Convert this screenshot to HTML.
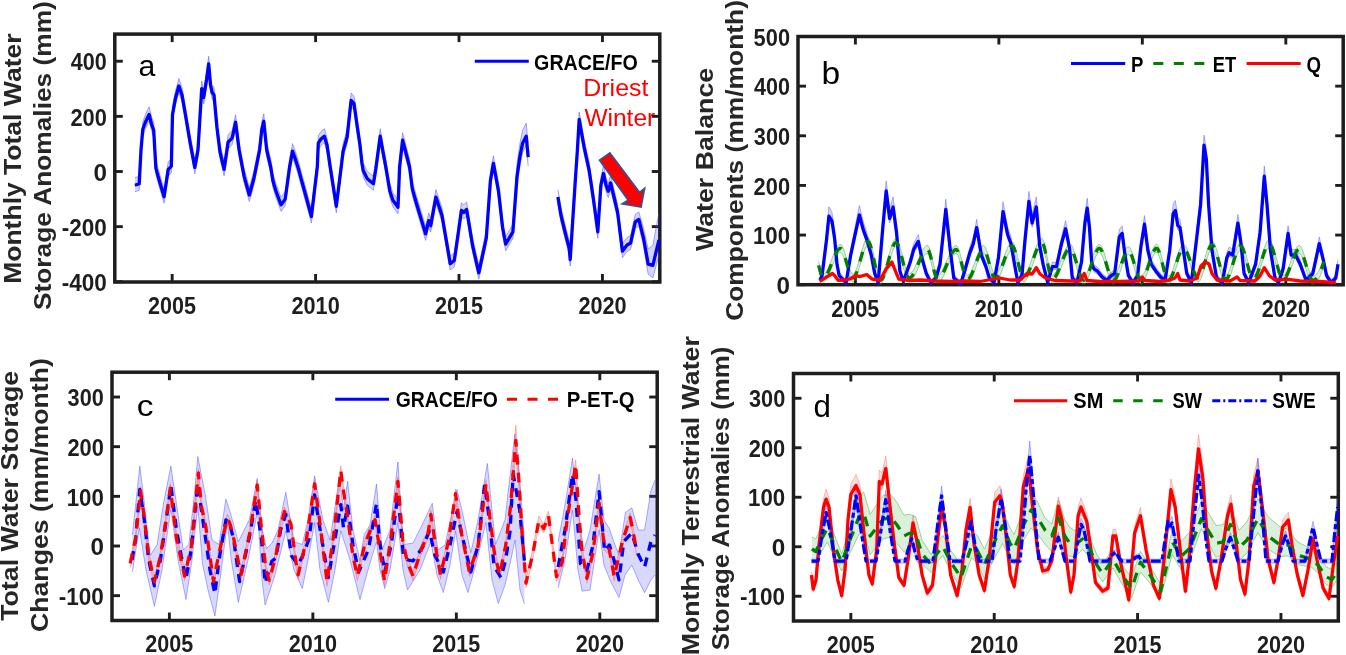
<!DOCTYPE html>
<html><head><meta charset="utf-8"><style>
html,body{margin:0;padding:0;background:#fff;}
svg{display:block;font-family:"Liberation Sans",sans-serif;will-change:transform;}
</style></head><body>
<svg width="1346" height="655" viewBox="0 0 1346 655">
<rect width="1346" height="655" fill="#fff"/>
<rect x="114.8" y="34.1" width="545.0" height="247.9" fill="none" stroke="#1e1e1e" stroke-width="3.5"/>
<line x1="172.17" y1="34.1" x2="172.17" y2="42.1" stroke="#1e1e1e" stroke-width="2.9"/>
<line x1="172.17" y1="282.0" x2="172.17" y2="274.0" stroke="#1e1e1e" stroke-width="2.9"/>
<text transform="translate(148.12,314.20) scale(0.9217,1)" font-size="23.4" font-weight="bold" fill="#1e1e1e">2005</text>
<line x1="315.59" y1="34.1" x2="315.59" y2="42.1" stroke="#1e1e1e" stroke-width="2.9"/>
<line x1="315.59" y1="282.0" x2="315.59" y2="274.0" stroke="#1e1e1e" stroke-width="2.9"/>
<text transform="translate(291.54,314.20) scale(0.9259,1)" font-size="23.4" font-weight="bold" fill="#1e1e1e">2010</text>
<line x1="459.01" y1="34.1" x2="459.01" y2="42.1" stroke="#1e1e1e" stroke-width="2.9"/>
<line x1="459.01" y1="282.0" x2="459.01" y2="274.0" stroke="#1e1e1e" stroke-width="2.9"/>
<text transform="translate(434.96,314.20) scale(0.9217,1)" font-size="23.4" font-weight="bold" fill="#1e1e1e">2015</text>
<line x1="602.43" y1="34.1" x2="602.43" y2="42.1" stroke="#1e1e1e" stroke-width="2.9"/>
<line x1="602.43" y1="282.0" x2="602.43" y2="274.0" stroke="#1e1e1e" stroke-width="2.9"/>
<text transform="translate(578.38,314.20) scale(0.9259,1)" font-size="23.4" font-weight="bold" fill="#1e1e1e">2020</text>
<line x1="114.8" y1="61.22" x2="122.8" y2="61.22" stroke="#1e1e1e" stroke-width="2.9"/>
<line x1="659.8" y1="61.22" x2="651.8" y2="61.22" stroke="#1e1e1e" stroke-width="2.9"/>
<text transform="translate(70.83,70.42) scale(0.9220,1)" font-size="23.4" font-weight="bold" fill="#1e1e1e">400</text>
<line x1="114.8" y1="116.36" x2="122.8" y2="116.36" stroke="#1e1e1e" stroke-width="2.9"/>
<line x1="659.8" y1="116.36" x2="651.8" y2="116.36" stroke="#1e1e1e" stroke-width="2.9"/>
<text transform="translate(70.39,125.56) scale(0.9335,1)" font-size="23.4" font-weight="bold" fill="#1e1e1e">200</text>
<line x1="114.8" y1="171.50" x2="122.8" y2="171.50" stroke="#1e1e1e" stroke-width="2.9"/>
<line x1="659.8" y1="171.50" x2="651.8" y2="171.50" stroke="#1e1e1e" stroke-width="2.9"/>
<text transform="translate(93.38,180.70) scale(1.0372,1)" font-size="23.4" font-weight="bold" fill="#1e1e1e">0</text>
<line x1="114.8" y1="226.64" x2="122.8" y2="226.64" stroke="#1e1e1e" stroke-width="2.9"/>
<line x1="659.8" y1="226.64" x2="651.8" y2="226.64" stroke="#1e1e1e" stroke-width="2.9"/>
<text transform="translate(61.65,235.84) scale(0.9621,1)" font-size="23.4" font-weight="bold" fill="#1e1e1e">-200</text>
<line x1="114.8" y1="281.78" x2="122.8" y2="281.78" stroke="#1e1e1e" stroke-width="2.9"/>
<line x1="659.8" y1="281.78" x2="651.8" y2="281.78" stroke="#1e1e1e" stroke-width="2.9"/>
<text transform="translate(61.65,290.98) scale(0.9621,1)" font-size="23.4" font-weight="bold" fill="#1e1e1e">-400</text>
<polygon points="134.9,177.7 137.0,177.0 139.2,176.3 141.0,142.5 142.8,121.8 145.5,114.5 149.1,106.9 151.5,116.5 153.7,122.8 155.9,160.9 160.0,175.5 164.1,189.2 168.2,161.9 171.3,158.9 172.5,106.9 175.5,90.5 178.9,78.5 182.0,87.5 186.0,110.5 190.0,134.5 194.8,159.9 198.0,142.5 201.7,81.1 203.7,90.0 206.5,72.5 208.7,56.3 210.5,77.5 212.2,85.1 214.0,87.5 217.0,120.5 220.0,144.5 224.1,161.9 228.1,134.7 232.1,130.7 235.6,114.8 239.1,142.5 242.9,162.5 244.2,169.1 249.3,187.5 254.0,170.5 259.6,142.5 261.8,121.8 263.8,113.8 266.7,142.5 270.7,159.5 272.9,173.2 275.9,183.5 281.1,197.4 285.2,191.6 289.6,159.5 292.5,143.6 295.0,150.5 298.5,161.5 300.5,169.1 305.6,187.5 311.4,209.0 317.3,159.5 318.3,135.7 321.0,131.5 324.3,128.7 327.0,137.5 330.2,159.5 336.3,198.8 341.2,159.5 343.1,143.6 347.1,129.7 351.1,93.0 354.0,96.0 357.0,117.5 360.0,137.7 361.9,155.5 363.2,163.0 367.3,171.2 373.4,176.3 375.8,161.5 380.2,128.7 383.0,144.5 385.8,159.5 389.8,183.5 392.9,192.7 398.0,199.8 399.6,159.5 402.6,132.7 405.2,142.5 409.6,159.5 412.3,181.4 416.4,195.7 425.6,226.4 428.7,213.1 430.7,218.2 435.9,189.6 442.0,208.0 450.2,256.1 454.3,253.0 458.0,227.5 461.4,202.9 463.9,204.9 466.6,201.9 472.7,238.7 478.8,265.3 486.3,230.5 490.4,173.2 493.4,155.8 498.5,183.5 502.6,220.3 505.7,236.7 512.9,224.4 517.0,163.6 520.0,143.1 522.6,130.2 526.2,123.2 528.2,144.1 528.2,166.1 526.2,145.2 522.6,152.2 520.0,165.1 517.0,185.6 512.9,238.4 505.7,250.7 502.6,234.3 498.5,197.5 493.4,169.8 490.4,187.2 486.3,244.5 478.8,279.3 472.7,252.7 466.6,215.9 463.9,218.9 461.4,216.9 458.0,241.5 454.3,267.0 450.2,270.1 442.0,222.0 435.9,203.6 430.7,232.2 428.7,227.1 425.6,240.4 416.4,209.7 412.3,195.4 409.6,173.5 405.2,156.5 402.6,146.7 399.6,173.5 398.0,213.8 392.9,206.7 389.8,197.5 385.8,173.5 383.0,158.5 380.2,142.7 375.8,175.5 373.4,190.3 367.3,185.2 363.2,177.0 361.9,169.5 360.0,151.7 357.0,131.5 354.0,110.0 351.1,107.0 347.1,143.7 343.1,157.6 341.2,173.5 336.3,212.8 330.2,173.5 327.0,151.5 324.3,142.7 321.0,145.5 318.3,149.7 317.3,173.5 311.4,223.0 305.6,201.5 300.5,183.1 298.5,175.5 295.0,164.5 292.5,157.6 289.6,173.5 285.2,205.6 281.1,211.4 275.9,197.5 272.9,187.2 270.7,173.5 266.7,156.5 263.8,127.8 261.8,135.8 259.6,156.5 254.0,184.5 249.3,201.5 244.2,183.1 242.9,176.5 239.1,156.5 235.6,128.8 232.1,144.7 228.1,148.7 224.1,175.9 220.0,158.5 217.0,134.5 214.0,101.5 212.2,99.1 210.5,91.5 208.7,70.3 206.5,86.5 203.7,104.0 201.7,95.1 198.0,156.5 194.8,173.9 190.0,148.5 186.0,124.5 182.0,101.5 178.9,92.5 175.5,104.5 172.5,120.9 171.3,172.9 168.2,175.9 164.1,203.2 160.0,189.5 155.9,174.9 153.7,136.8 151.5,130.5 149.1,120.9 145.5,128.5 142.8,135.8 141.0,156.5 139.2,190.3 137.0,191.0 134.9,191.7" fill="rgba(60,60,255,0.22)" stroke="none"/><polyline points="134.9,177.7 137.0,177.0 139.2,176.3 141.0,142.5 142.8,121.8 145.5,114.5 149.1,106.9 151.5,116.5 153.7,122.8 155.9,160.9 160.0,175.5 164.1,189.2 168.2,161.9 171.3,158.9 172.5,106.9 175.5,90.5 178.9,78.5 182.0,87.5 186.0,110.5 190.0,134.5 194.8,159.9 198.0,142.5 201.7,81.1 203.7,90.0 206.5,72.5 208.7,56.3 210.5,77.5 212.2,85.1 214.0,87.5 217.0,120.5 220.0,144.5 224.1,161.9 228.1,134.7 232.1,130.7 235.6,114.8 239.1,142.5 242.9,162.5 244.2,169.1 249.3,187.5 254.0,170.5 259.6,142.5 261.8,121.8 263.8,113.8 266.7,142.5 270.7,159.5 272.9,173.2 275.9,183.5 281.1,197.4 285.2,191.6 289.6,159.5 292.5,143.6 295.0,150.5 298.5,161.5 300.5,169.1 305.6,187.5 311.4,209.0 317.3,159.5 318.3,135.7 321.0,131.5 324.3,128.7 327.0,137.5 330.2,159.5 336.3,198.8 341.2,159.5 343.1,143.6 347.1,129.7 351.1,93.0 354.0,96.0 357.0,117.5 360.0,137.7 361.9,155.5 363.2,163.0 367.3,171.2 373.4,176.3 375.8,161.5 380.2,128.7 383.0,144.5 385.8,159.5 389.8,183.5 392.9,192.7 398.0,199.8 399.6,159.5 402.6,132.7 405.2,142.5 409.6,159.5 412.3,181.4 416.4,195.7 425.6,226.4 428.7,213.1 430.7,218.2 435.9,189.6 442.0,208.0 450.2,256.1 454.3,253.0 458.0,227.5 461.4,202.9 463.9,204.9 466.6,201.9 472.7,238.7 478.8,265.3 486.3,230.5 490.4,173.2 493.4,155.8 498.5,183.5 502.6,220.3 505.7,236.7 512.9,224.4 517.0,163.6 520.0,143.1 522.6,130.2 526.2,123.2 528.2,144.1" fill="none" stroke="rgba(70,70,255,0.6)" stroke-width="0.8"/><polyline points="134.9,191.7 137.0,191.0 139.2,190.3 141.0,156.5 142.8,135.8 145.5,128.5 149.1,120.9 151.5,130.5 153.7,136.8 155.9,174.9 160.0,189.5 164.1,203.2 168.2,175.9 171.3,172.9 172.5,120.9 175.5,104.5 178.9,92.5 182.0,101.5 186.0,124.5 190.0,148.5 194.8,173.9 198.0,156.5 201.7,95.1 203.7,104.0 206.5,86.5 208.7,70.3 210.5,91.5 212.2,99.1 214.0,101.5 217.0,134.5 220.0,158.5 224.1,175.9 228.1,148.7 232.1,144.7 235.6,128.8 239.1,156.5 242.9,176.5 244.2,183.1 249.3,201.5 254.0,184.5 259.6,156.5 261.8,135.8 263.8,127.8 266.7,156.5 270.7,173.5 272.9,187.2 275.9,197.5 281.1,211.4 285.2,205.6 289.6,173.5 292.5,157.6 295.0,164.5 298.5,175.5 300.5,183.1 305.6,201.5 311.4,223.0 317.3,173.5 318.3,149.7 321.0,145.5 324.3,142.7 327.0,151.5 330.2,173.5 336.3,212.8 341.2,173.5 343.1,157.6 347.1,143.7 351.1,107.0 354.0,110.0 357.0,131.5 360.0,151.7 361.9,169.5 363.2,177.0 367.3,185.2 373.4,190.3 375.8,175.5 380.2,142.7 383.0,158.5 385.8,173.5 389.8,197.5 392.9,206.7 398.0,213.8 399.6,173.5 402.6,146.7 405.2,156.5 409.6,173.5 412.3,195.4 416.4,209.7 425.6,240.4 428.7,227.1 430.7,232.2 435.9,203.6 442.0,222.0 450.2,270.1 454.3,267.0 458.0,241.5 461.4,216.9 463.9,218.9 466.6,215.9 472.7,252.7 478.8,279.3 486.3,244.5 490.4,187.2 493.4,169.8 498.5,197.5 502.6,234.3 505.7,250.7 512.9,238.4 517.0,185.6 520.0,165.1 522.6,152.2 526.2,145.2 528.2,166.1" fill="none" stroke="rgba(70,70,255,0.6)" stroke-width="0.8"/>
<polygon points="557.9,189.6 561.0,208.0 565.0,224.5 569.2,240.8 570.2,252.0 575.3,173.2 577.4,142.5 579.2,111.9 584.1,139.6 589.1,162.5 593.7,193.7 597.8,224.4 600.9,177.3 603.5,166.0 606.0,177.5 608.2,183.7 610.6,175.5 614.0,189.5 617.6,204.9 622.4,243.7 627.0,237.5 630.6,235.5 635.3,214.3 638.8,211.9 643.5,228.3 648.2,249.1 652.9,245.1 657.6,219.9 659.0,213.1 659.0,255.5 657.6,260.1 652.9,277.8 648.2,274.2 643.5,245.9 638.8,225.9 635.3,228.3 630.6,249.5 627.0,251.5 622.4,257.7 617.6,218.9 614.0,203.5 610.6,189.5 608.2,197.7 606.0,191.5 603.5,180.0 600.9,191.3 597.8,238.4 593.7,207.7 589.1,176.5 584.1,153.6 579.2,125.9 577.4,156.5 575.3,187.2 570.2,266.0 569.2,254.8 565.0,238.5 561.0,222.0 557.9,203.6" fill="rgba(60,60,255,0.22)" stroke="none"/><polyline points="557.9,189.6 561.0,208.0 565.0,224.5 569.2,240.8 570.2,252.0 575.3,173.2 577.4,142.5 579.2,111.9 584.1,139.6 589.1,162.5 593.7,193.7 597.8,224.4 600.9,177.3 603.5,166.0 606.0,177.5 608.2,183.7 610.6,175.5 614.0,189.5 617.6,204.9 622.4,243.7 627.0,237.5 630.6,235.5 635.3,214.3 638.8,211.9 643.5,228.3 648.2,249.1 652.9,245.1 657.6,219.9 659.0,213.1" fill="none" stroke="rgba(70,70,255,0.6)" stroke-width="0.8"/><polyline points="557.9,203.6 561.0,222.0 565.0,238.5 569.2,254.8 570.2,266.0 575.3,187.2 577.4,156.5 579.2,125.9 584.1,153.6 589.1,176.5 593.7,207.7 597.8,238.4 600.9,191.3 603.5,180.0 606.0,191.5 608.2,197.7 610.6,189.5 614.0,203.5 617.6,218.9 622.4,257.7 627.0,251.5 630.6,249.5 635.3,228.3 638.8,225.9 643.5,245.9 648.2,274.2 652.9,277.8 657.6,260.1 659.0,255.5" fill="none" stroke="rgba(70,70,255,0.6)" stroke-width="0.8"/>
<polyline points="134.9,185.2 137.0,184.5 139.2,183.8 141.0,150.0 142.8,129.3 145.5,122.0 149.1,114.4 151.5,124.0 153.7,130.3 155.9,168.4 160.0,183.0 164.1,196.7 168.2,169.4 171.3,166.4 172.5,114.4 175.5,98.0 178.9,86.0 182.0,95.0 186.0,118.0 190.0,142.0 194.8,167.4 198.0,150.0 201.7,88.6 203.7,97.5 206.5,80.0 208.7,63.8 210.5,85.0 212.2,92.6 214.0,95.0 217.0,128.0 220.0,152.0 224.1,169.4 228.1,142.2 232.1,138.2 235.6,122.3 239.1,150.0 242.9,170.0 244.2,176.6 249.3,195.0 254.0,178.0 259.6,150.0 261.8,129.3 263.8,121.3 266.7,150.0 270.7,167.0 272.9,180.7 275.9,191.0 281.1,204.9 285.2,199.1 289.6,167.0 292.5,151.1 295.0,158.0 298.5,169.0 300.5,176.6 305.6,195.0 311.4,216.5 317.3,167.0 318.3,143.2 321.0,139.0 324.3,136.2 327.0,145.0 330.2,167.0 336.3,206.3 341.2,167.0 343.1,151.1 347.1,137.2 351.1,100.5 354.0,103.5 357.0,125.0 360.0,145.2 361.9,163.0 363.2,170.5 367.3,178.7 373.4,183.8 375.8,169.0 380.2,136.2 383.0,152.0 385.8,167.0 389.8,191.0 392.9,200.2 398.0,207.3 399.6,167.0 402.6,140.2 405.2,150.0 409.6,167.0 412.3,188.9 416.4,203.2 425.6,233.9 428.7,220.6 430.7,225.7 435.9,197.1 442.0,215.5 450.2,263.6 454.3,260.5 458.0,235.0 461.4,210.4 463.9,212.4 466.6,209.4 472.7,246.2 478.8,272.8 486.3,238.0 490.4,180.7 493.4,163.3 498.5,191.0 502.6,227.8 505.7,244.2 512.9,231.9 517.0,176.6 520.0,156.1 522.6,143.2 526.2,136.2 528.2,157.1" fill="none" stroke="#0000ff" stroke-width="3.3" stroke-linejoin="round" stroke-linecap="butt" />
<polyline points="557.9,197.1 561.0,215.5 565.0,232.0 569.2,248.3 570.2,259.5 575.3,180.7 577.4,150.0 579.2,119.4 584.1,147.1 589.1,170.0 593.7,201.2 597.8,231.9 600.9,184.8 603.5,173.5 606.0,185.0 608.2,191.2 610.6,183.0 614.0,197.0 617.6,212.4 622.4,251.2 627.0,245.0 630.6,243.0 635.3,221.8 638.8,219.4 643.5,238.2 648.2,264.1 652.9,265.3 657.6,245.3 659.0,240.0" fill="none" stroke="#0000ff" stroke-width="3.3" stroke-linejoin="round" stroke-linecap="butt" />
<line x1="474.8" y1="61.2" x2="528.8" y2="61.2" stroke="#0000ff" stroke-width="3"/>
<text transform="translate(534.11,69.90) scale(0.9271,1)" font-size="21.2" font-weight="bold" fill="#000">GRACE/FO</text>
<text transform="translate(138.39,76.30) scale(1.0064,1)" font-size="30" font-weight="normal" fill="#000">a</text>
<text transform="translate(583.31,96.20) scale(1.0384,1)" font-size="24" font-weight="normal" fill="#ff0000">Driest</text>
<text transform="translate(584.40,126.40) scale(1.0214,1)" font-size="24" font-weight="normal" fill="#ff0000">Winter</text>
<polygon points="599.5,160.2 609.9,152.8 639.5,192.3 644.7,188.2 641.1,207.2 622.1,203.9 628.2,200.2" fill="#ff0000" stroke="#2f5597" stroke-width="1.6" stroke-linejoin="miter"/>
<text transform="translate(21.30,283.86) scale(0.92,1) rotate(-90) scale(1.0087,1)" font-size="26.3" font-weight="bold" fill="#262626">Monthly Total Water</text>
<text transform="translate(50.60,310.09) scale(0.92,1) rotate(-90) scale(1.0011,1)" font-size="26.3" font-weight="bold" fill="#262626">Storage Anomalies (mm)</text>
<rect x="798.0" y="36.5" width="545.2" height="248.2" fill="none" stroke="#1e1e1e" stroke-width="3.5"/>
<line x1="855.39" y1="36.5" x2="855.39" y2="44.5" stroke="#1e1e1e" stroke-width="2.9"/>
<line x1="855.39" y1="284.7" x2="855.39" y2="276.7" stroke="#1e1e1e" stroke-width="2.9"/>
<text transform="translate(831.34,316.60) scale(0.9217,1)" font-size="23.4" font-weight="bold" fill="#1e1e1e">2005</text>
<line x1="998.86" y1="36.5" x2="998.86" y2="44.5" stroke="#1e1e1e" stroke-width="2.9"/>
<line x1="998.86" y1="284.7" x2="998.86" y2="276.7" stroke="#1e1e1e" stroke-width="2.9"/>
<text transform="translate(974.81,316.60) scale(0.9259,1)" font-size="23.4" font-weight="bold" fill="#1e1e1e">2010</text>
<line x1="1142.34" y1="36.5" x2="1142.34" y2="44.5" stroke="#1e1e1e" stroke-width="2.9"/>
<line x1="1142.34" y1="284.7" x2="1142.34" y2="276.7" stroke="#1e1e1e" stroke-width="2.9"/>
<text transform="translate(1118.29,316.60) scale(0.9217,1)" font-size="23.4" font-weight="bold" fill="#1e1e1e">2015</text>
<line x1="1285.81" y1="36.5" x2="1285.81" y2="44.5" stroke="#1e1e1e" stroke-width="2.9"/>
<line x1="1285.81" y1="284.7" x2="1285.81" y2="276.7" stroke="#1e1e1e" stroke-width="2.9"/>
<text transform="translate(1261.76,316.60) scale(0.9259,1)" font-size="23.4" font-weight="bold" fill="#1e1e1e">2020</text>
<line x1="798.0" y1="284.70" x2="806.0" y2="284.70" stroke="#1e1e1e" stroke-width="2.9"/>
<line x1="1343.2" y1="284.70" x2="1335.2" y2="284.70" stroke="#1e1e1e" stroke-width="2.9"/>
<text transform="translate(776.58,293.90) scale(1.0372,1)" font-size="23.4" font-weight="bold" fill="#1e1e1e">0</text>
<line x1="798.0" y1="235.06" x2="806.0" y2="235.06" stroke="#1e1e1e" stroke-width="2.9"/>
<line x1="1343.2" y1="235.06" x2="1335.2" y2="235.06" stroke="#1e1e1e" stroke-width="2.9"/>
<text transform="translate(752.91,244.26) scale(0.9513,1)" font-size="23.4" font-weight="bold" fill="#1e1e1e">100</text>
<line x1="798.0" y1="185.42" x2="806.0" y2="185.42" stroke="#1e1e1e" stroke-width="2.9"/>
<line x1="1343.2" y1="185.42" x2="1335.2" y2="185.42" stroke="#1e1e1e" stroke-width="2.9"/>
<text transform="translate(753.59,194.62) scale(0.9335,1)" font-size="23.4" font-weight="bold" fill="#1e1e1e">200</text>
<line x1="798.0" y1="135.78" x2="806.0" y2="135.78" stroke="#1e1e1e" stroke-width="2.9"/>
<line x1="1343.2" y1="135.78" x2="1335.2" y2="135.78" stroke="#1e1e1e" stroke-width="2.9"/>
<text transform="translate(753.82,144.98) scale(0.9277,1)" font-size="23.4" font-weight="bold" fill="#1e1e1e">300</text>
<line x1="798.0" y1="86.14" x2="806.0" y2="86.14" stroke="#1e1e1e" stroke-width="2.9"/>
<line x1="1343.2" y1="86.14" x2="1335.2" y2="86.14" stroke="#1e1e1e" stroke-width="2.9"/>
<text transform="translate(754.03,95.34) scale(0.9220,1)" font-size="23.4" font-weight="bold" fill="#1e1e1e">400</text>
<line x1="798.0" y1="36.50" x2="806.0" y2="36.50" stroke="#1e1e1e" stroke-width="2.9"/>
<line x1="1343.2" y1="36.50" x2="1335.2" y2="36.50" stroke="#1e1e1e" stroke-width="2.9"/>
<text transform="translate(753.59,45.70) scale(0.9335,1)" font-size="23.4" font-weight="bold" fill="#1e1e1e">500</text>
<polygon points="818.6,261.4 819.8,265.9 821.0,270.1 822.2,273.1 823.4,274.0 824.6,273.4 825.8,272.2 827.0,270.3 828.2,267.9 829.4,265.2 830.6,262.2 831.8,259.1 833.0,256.1 834.2,253.1 835.4,250.4 836.6,248.0 837.8,246.1 839.0,244.9 840.2,244.3 841.4,244.8 842.6,246.7 843.8,249.6 845.0,253.3 846.2,257.4 847.4,261.6 848.6,265.7 849.8,269.2 851.0,272.0 852.2,273.7 853.4,273.9 854.6,272.8 855.8,270.6 857.0,267.5 858.2,263.7 859.4,259.5 860.6,255.1 861.8,250.8 863.0,246.7 864.2,243.0 865.4,240.1 866.6,238.2 867.8,237.4 869.0,238.2 870.2,240.8 871.4,244.7 872.6,249.6 873.8,255.0 875.0,260.5 876.2,265.8 877.4,270.4 878.6,273.9 879.8,276.0 881.0,276.2 882.2,275.0 883.4,272.8 884.6,269.8 885.8,266.1 887.0,261.9 888.2,257.6 889.4,253.2 890.6,249.1 891.8,245.3 893.0,242.2 894.2,239.9 895.4,238.7 896.6,238.7 897.8,240.3 899.0,243.2 900.2,247.1 901.4,251.6 902.6,256.5 903.8,261.3 905.0,265.7 906.2,269.6 907.4,272.4 908.6,273.8 909.8,273.9 911.0,273.1 912.2,271.8 913.4,270.0 914.6,267.8 915.8,265.3 917.0,262.6 918.2,259.8 919.4,257.0 920.6,254.3 921.8,251.8 923.0,249.6 924.2,247.7 925.4,246.4 926.6,245.6 927.8,245.5 929.0,247.3 930.2,250.8 931.4,255.4 932.6,260.5 933.8,265.6 935.0,270.1 936.2,273.5 937.4,275.1 938.6,275.0 939.8,274.1 941.0,272.7 942.2,270.7 943.4,268.4 944.6,265.8 945.8,263.0 947.0,260.1 948.2,257.2 949.4,254.4 950.6,251.8 951.8,249.5 953.0,247.7 954.2,246.3 955.4,245.5 956.6,245.6 957.8,247.2 959.0,250.2 960.2,254.2 961.4,258.7 962.6,263.4 963.8,267.8 965.0,271.5 966.2,274.1 967.4,275.2 968.6,274.8 969.8,273.5 971.0,271.6 972.2,269.1 973.4,266.1 974.6,262.9 975.8,259.6 977.0,256.3 978.2,253.2 979.4,250.4 980.6,248.1 981.8,246.4 983.0,245.5 984.2,245.6 985.4,247.3 986.6,250.3 987.8,254.2 989.0,258.6 990.2,263.1 991.4,267.2 992.6,270.7 993.8,273.1 995.0,274.0 996.2,273.6 997.4,272.3 998.6,270.4 999.8,267.9 1001.0,265.0 1002.2,261.9 1003.4,258.6 1004.6,255.2 1005.8,252.0 1007.0,249.0 1008.2,246.4 1009.4,244.3 1010.6,242.8 1011.8,242.1 1013.0,242.4 1014.2,244.6 1015.4,248.1 1016.6,252.5 1017.8,257.4 1019.0,262.3 1020.2,266.9 1021.4,270.7 1022.6,273.2 1023.8,274.0 1025.0,273.5 1026.2,272.2 1027.4,270.2 1028.6,267.7 1029.8,264.8 1031.0,261.6 1032.2,258.1 1033.4,254.7 1034.6,251.2 1035.8,248.0 1037.0,245.0 1038.2,242.5 1039.4,240.4 1040.6,239.1 1041.8,238.5 1043.0,239.5 1044.2,242.8 1045.4,247.9 1046.6,253.9 1047.8,260.3 1049.0,266.3 1050.2,271.2 1051.4,274.4 1052.6,275.2 1053.8,274.6 1055.0,273.3 1056.2,271.4 1057.4,269.0 1058.6,266.2 1059.8,263.3 1061.0,260.1 1062.2,257.0 1063.4,254.0 1064.6,251.2 1065.8,248.7 1067.0,246.7 1068.2,245.2 1069.4,244.4 1070.6,244.5 1071.8,245.8 1073.0,248.2 1074.2,251.5 1075.4,255.3 1076.6,259.4 1077.8,263.6 1079.0,267.6 1080.2,271.1 1081.4,273.9 1082.6,275.7 1083.8,276.3 1085.0,275.7 1086.2,274.1 1087.4,271.8 1088.6,268.8 1089.8,265.4 1091.0,261.8 1092.2,258.2 1093.4,254.6 1094.6,251.3 1095.8,248.4 1097.0,246.2 1098.2,244.8 1099.4,244.3 1100.6,245.1 1101.8,246.9 1103.0,249.7 1104.2,253.1 1105.4,256.9 1106.6,261.0 1107.8,265.0 1109.0,268.7 1110.2,271.9 1111.4,274.4 1112.6,275.9 1113.8,276.3 1115.0,275.5 1116.2,273.7 1117.4,271.2 1118.6,268.2 1119.8,264.8 1121.0,261.3 1122.2,257.7 1123.4,254.3 1124.6,251.3 1125.8,248.9 1127.0,247.2 1128.2,246.5 1129.4,247.0 1130.6,248.9 1131.8,251.8 1133.0,255.5 1134.2,259.6 1135.4,263.9 1136.6,267.9 1137.8,271.5 1139.0,274.3 1140.2,276.0 1141.4,276.2 1142.6,275.4 1143.8,273.6 1145.0,271.1 1146.2,268.0 1147.4,264.6 1148.6,260.9 1149.8,257.2 1151.0,253.7 1152.2,250.5 1153.4,247.8 1154.6,245.7 1155.8,244.5 1157.0,244.4 1158.2,245.9 1159.4,248.8 1160.6,252.7 1161.8,257.3 1163.0,262.1 1164.2,266.8 1165.4,270.9 1166.6,274.1 1167.8,276.0 1169.0,276.2 1170.2,275.1 1171.4,273.1 1172.6,270.4 1173.8,267.0 1175.0,263.3 1176.2,259.5 1177.4,255.7 1178.6,252.1 1179.8,249.0 1181.0,246.5 1182.2,244.9 1183.4,244.3 1184.6,244.8 1185.8,246.4 1187.0,248.7 1188.2,251.6 1189.4,254.9 1190.6,258.4 1191.8,262.0 1193.0,265.4 1194.2,268.5 1195.4,271.1 1196.6,272.9 1197.8,273.9 1199.0,273.7 1200.2,272.3 1201.4,269.7 1202.6,266.2 1203.8,262.2 1205.0,257.9 1206.2,253.6 1207.4,249.5 1208.6,245.9 1209.8,243.1 1211.0,241.3 1212.2,240.8 1213.4,241.8 1214.6,244.0 1215.8,247.2 1217.0,251.1 1218.2,255.4 1219.4,259.9 1220.6,264.2 1221.8,268.2 1223.0,271.5 1224.2,273.9 1225.4,275.1 1226.6,274.9 1227.8,273.6 1229.0,271.3 1230.2,268.2 1231.4,264.7 1232.6,260.8 1233.8,256.8 1235.0,252.9 1236.2,249.3 1237.4,246.2 1238.6,243.8 1239.8,242.3 1241.0,242.1 1242.2,243.3 1243.4,245.9 1244.6,249.6 1245.8,253.9 1247.0,258.6 1248.2,263.3 1249.4,267.6 1250.6,271.3 1251.8,273.9 1253.0,275.1 1254.2,274.9 1255.4,273.5 1256.6,271.3 1257.8,268.4 1259.0,264.9 1260.2,261.1 1261.4,257.1 1262.6,253.2 1263.8,249.4 1265.0,246.0 1266.2,243.2 1267.4,241.1 1268.6,239.9 1269.8,239.8 1271.0,241.2 1272.2,243.7 1273.4,247.2 1274.6,251.4 1275.8,255.9 1277.0,260.5 1278.2,265.0 1279.4,268.9 1280.6,272.1 1281.8,274.3 1283.0,275.2 1284.2,274.8 1285.4,273.5 1286.6,271.5 1287.8,269.0 1289.0,266.0 1290.2,262.8 1291.4,259.5 1292.6,256.2 1293.8,253.0 1295.0,250.3 1296.2,248.0 1297.4,246.3 1298.6,245.5 1299.8,245.6 1301.0,247.0 1302.2,249.4 1303.4,252.6 1304.6,256.3 1305.8,260.3 1307.0,264.4 1308.2,268.2 1309.4,271.5 1310.6,274.2 1311.8,275.8 1313.0,276.3 1314.2,276.0 1315.4,275.3 1316.6,274.1 1317.8,272.5 1319.0,270.4 1320.2,267.9 1321.4,264.9 1322.6,261.4 1323.8,257.5 1323.8,265.5 1322.6,269.4 1321.4,272.9 1320.2,275.9 1319.0,278.4 1317.8,280.5 1316.6,282.1 1315.4,283.3 1314.2,284.0 1313.0,284.3 1311.8,283.8 1310.6,282.2 1309.4,279.5 1308.2,276.2 1307.0,272.4 1305.8,268.3 1304.6,264.3 1303.4,260.6 1302.2,257.4 1301.0,255.0 1299.8,253.6 1298.6,253.5 1297.4,254.3 1296.2,256.0 1295.0,258.3 1293.8,261.0 1292.6,264.2 1291.4,267.5 1290.2,270.8 1289.0,274.0 1287.8,277.0 1286.6,279.5 1285.4,281.5 1284.2,282.8 1283.0,283.2 1281.8,282.3 1280.6,280.1 1279.4,276.9 1278.2,273.0 1277.0,268.5 1275.8,263.9 1274.6,259.4 1273.4,255.2 1272.2,251.7 1271.0,249.2 1269.8,247.8 1268.6,247.9 1267.4,249.1 1266.2,251.2 1265.0,254.0 1263.8,257.4 1262.6,261.2 1261.4,265.1 1260.2,269.1 1259.0,272.9 1257.8,276.4 1256.6,279.3 1255.4,281.5 1254.2,282.9 1253.0,283.1 1251.8,281.9 1250.6,279.3 1249.4,275.6 1248.2,271.3 1247.0,266.6 1245.8,261.9 1244.6,257.6 1243.4,253.9 1242.2,251.3 1241.0,250.1 1239.8,250.3 1238.6,251.8 1237.4,254.2 1236.2,257.3 1235.0,260.9 1233.8,264.8 1232.6,268.8 1231.4,272.7 1230.2,276.2 1229.0,279.3 1227.8,281.6 1226.6,282.9 1225.4,283.1 1224.2,281.9 1223.0,279.5 1221.8,276.2 1220.6,272.2 1219.4,267.9 1218.2,263.4 1217.0,259.1 1215.8,255.2 1214.6,252.0 1213.4,249.8 1212.2,248.8 1211.0,249.3 1209.8,251.1 1208.6,253.9 1207.4,257.5 1206.2,261.6 1205.0,265.9 1203.8,270.2 1202.6,274.2 1201.4,277.7 1200.2,280.3 1199.0,281.7 1197.8,281.9 1196.6,280.9 1195.4,279.1 1194.2,276.5 1193.0,273.4 1191.8,270.0 1190.6,266.4 1189.4,262.9 1188.2,259.6 1187.0,256.7 1185.8,254.4 1184.6,252.8 1183.4,252.3 1182.2,252.9 1181.0,254.5 1179.8,257.0 1178.6,260.1 1177.4,263.7 1176.2,267.5 1175.0,271.3 1173.8,275.0 1172.6,278.4 1171.4,281.1 1170.2,283.1 1169.0,284.2 1167.8,284.0 1166.6,282.1 1165.4,278.9 1164.2,274.8 1163.0,270.1 1161.8,265.3 1160.6,260.7 1159.4,256.8 1158.2,253.9 1157.0,252.4 1155.8,252.5 1154.6,253.7 1153.4,255.8 1152.2,258.5 1151.0,261.7 1149.8,265.2 1148.6,268.9 1147.4,272.6 1146.2,276.0 1145.0,279.1 1143.8,281.6 1142.6,283.4 1141.4,284.2 1140.2,284.0 1139.0,282.3 1137.8,279.5 1136.6,275.9 1135.4,271.9 1134.2,267.6 1133.0,263.5 1131.8,259.8 1130.6,256.9 1129.4,255.0 1128.2,254.5 1127.0,255.2 1125.8,256.9 1124.6,259.3 1123.4,262.3 1122.2,265.7 1121.0,269.3 1119.8,272.8 1118.6,276.2 1117.4,279.2 1116.2,281.7 1115.0,283.5 1113.8,284.3 1112.6,283.9 1111.4,282.4 1110.2,279.9 1109.0,276.7 1107.8,273.0 1106.6,269.0 1105.4,264.9 1104.2,261.1 1103.0,257.7 1101.8,254.9 1100.6,253.1 1099.4,252.3 1098.2,252.8 1097.0,254.2 1095.8,256.4 1094.6,259.3 1093.4,262.6 1092.2,266.2 1091.0,269.8 1089.8,273.4 1088.6,276.8 1087.4,279.8 1086.2,282.1 1085.0,283.7 1083.8,284.3 1082.6,283.7 1081.4,281.9 1080.2,279.1 1079.0,275.6 1077.8,271.6 1076.6,267.4 1075.4,263.3 1074.2,259.5 1073.0,256.2 1071.8,253.8 1070.6,252.5 1069.4,252.4 1068.2,253.2 1067.0,254.7 1065.8,256.7 1064.6,259.2 1063.4,262.0 1062.2,265.0 1061.0,268.1 1059.8,271.3 1058.6,274.2 1057.4,277.0 1056.2,279.4 1055.0,281.3 1053.8,282.6 1052.6,283.2 1051.4,282.4 1050.2,279.2 1049.0,274.3 1047.8,268.3 1046.6,261.9 1045.4,255.9 1044.2,250.8 1043.0,247.5 1041.8,246.5 1040.6,247.1 1039.4,248.4 1038.2,250.5 1037.0,253.0 1035.8,256.0 1034.6,259.2 1033.4,262.7 1032.2,266.1 1031.0,269.6 1029.8,272.8 1028.6,275.7 1027.4,278.2 1026.2,280.2 1025.0,281.5 1023.8,282.0 1022.6,281.2 1021.4,278.7 1020.2,274.9 1019.0,270.3 1017.8,265.4 1016.6,260.5 1015.4,256.1 1014.2,252.6 1013.0,250.4 1011.8,250.1 1010.6,250.8 1009.4,252.3 1008.2,254.4 1007.0,257.0 1005.8,260.0 1004.6,263.2 1003.4,266.6 1002.2,269.9 1001.0,273.0 999.8,275.9 998.6,278.4 997.4,280.3 996.2,281.6 995.0,282.0 993.8,281.1 992.6,278.7 991.4,275.2 990.2,271.1 989.0,266.6 987.8,262.2 986.6,258.3 985.4,255.3 984.2,253.6 983.0,253.5 981.8,254.4 980.6,256.1 979.4,258.4 978.2,261.2 977.0,264.3 975.8,267.6 974.6,270.9 973.4,274.1 972.2,277.1 971.0,279.6 969.8,281.5 968.6,282.8 967.4,283.2 966.2,282.1 965.0,279.5 963.8,275.8 962.6,271.4 961.4,266.7 960.2,262.2 959.0,258.2 957.8,255.2 956.6,253.6 955.4,253.5 954.2,254.3 953.0,255.7 951.8,257.5 950.6,259.8 949.4,262.4 948.2,265.2 947.0,268.1 945.8,271.0 944.6,273.8 943.4,276.4 942.2,278.7 941.0,280.7 939.8,282.1 938.6,283.0 937.4,283.1 936.2,281.5 935.0,278.1 933.8,273.6 932.6,268.5 931.4,263.4 930.2,258.8 929.0,255.3 927.8,253.5 926.6,253.6 925.4,254.4 924.2,255.7 923.0,257.6 921.8,259.8 920.6,262.3 919.4,265.0 918.2,267.8 917.0,270.6 915.8,273.3 914.6,275.8 913.4,278.0 912.2,279.8 911.0,281.1 909.8,281.9 908.6,281.8 907.4,280.4 906.2,277.6 905.0,273.7 903.8,269.3 902.6,264.5 901.4,259.6 900.2,255.1 899.0,251.2 897.8,248.3 896.6,246.7 895.4,246.7 894.2,247.9 893.0,250.2 891.8,253.3 890.6,257.1 889.4,261.2 888.2,265.6 887.0,269.9 885.8,274.1 884.6,277.8 883.4,280.8 882.2,283.0 881.0,284.2 879.8,284.0 878.6,281.9 877.4,278.4 876.2,273.8 875.0,268.5 873.8,263.0 872.6,257.6 871.4,252.7 870.2,248.8 869.0,246.2 867.8,245.4 866.6,246.2 865.4,248.1 864.2,251.0 863.0,254.7 861.8,258.8 860.6,263.1 859.4,267.5 858.2,271.7 857.0,275.5 855.8,278.6 854.6,280.8 853.4,281.9 852.2,281.7 851.0,280.0 849.8,277.2 848.6,273.7 847.4,269.6 846.2,265.4 845.0,261.3 843.8,257.6 842.6,254.7 841.4,252.8 840.2,252.3 839.0,252.9 837.8,254.1 836.6,256.0 835.4,258.4 834.2,261.1 833.0,264.1 831.8,267.1 830.6,270.2 829.4,273.2 828.2,275.9 827.0,278.3 825.8,280.2 824.6,281.4 823.4,282.0 822.2,281.1 821.0,278.1 819.8,273.9 818.6,269.4" fill="rgba(0,140,0,0.15)" stroke="none"/><polyline points="818.6,261.4 819.8,265.9 821.0,270.1 822.2,273.1 823.4,274.0 824.6,273.4 825.8,272.2 827.0,270.3 828.2,267.9 829.4,265.2 830.6,262.2 831.8,259.1 833.0,256.1 834.2,253.1 835.4,250.4 836.6,248.0 837.8,246.1 839.0,244.9 840.2,244.3 841.4,244.8 842.6,246.7 843.8,249.6 845.0,253.3 846.2,257.4 847.4,261.6 848.6,265.7 849.8,269.2 851.0,272.0 852.2,273.7 853.4,273.9 854.6,272.8 855.8,270.6 857.0,267.5 858.2,263.7 859.4,259.5 860.6,255.1 861.8,250.8 863.0,246.7 864.2,243.0 865.4,240.1 866.6,238.2 867.8,237.4 869.0,238.2 870.2,240.8 871.4,244.7 872.6,249.6 873.8,255.0 875.0,260.5 876.2,265.8 877.4,270.4 878.6,273.9 879.8,276.0 881.0,276.2 882.2,275.0 883.4,272.8 884.6,269.8 885.8,266.1 887.0,261.9 888.2,257.6 889.4,253.2 890.6,249.1 891.8,245.3 893.0,242.2 894.2,239.9 895.4,238.7 896.6,238.7 897.8,240.3 899.0,243.2 900.2,247.1 901.4,251.6 902.6,256.5 903.8,261.3 905.0,265.7 906.2,269.6 907.4,272.4 908.6,273.8 909.8,273.9 911.0,273.1 912.2,271.8 913.4,270.0 914.6,267.8 915.8,265.3 917.0,262.6 918.2,259.8 919.4,257.0 920.6,254.3 921.8,251.8 923.0,249.6 924.2,247.7 925.4,246.4 926.6,245.6 927.8,245.5 929.0,247.3 930.2,250.8 931.4,255.4 932.6,260.5 933.8,265.6 935.0,270.1 936.2,273.5 937.4,275.1 938.6,275.0 939.8,274.1 941.0,272.7 942.2,270.7 943.4,268.4 944.6,265.8 945.8,263.0 947.0,260.1 948.2,257.2 949.4,254.4 950.6,251.8 951.8,249.5 953.0,247.7 954.2,246.3 955.4,245.5 956.6,245.6 957.8,247.2 959.0,250.2 960.2,254.2 961.4,258.7 962.6,263.4 963.8,267.8 965.0,271.5 966.2,274.1 967.4,275.2 968.6,274.8 969.8,273.5 971.0,271.6 972.2,269.1 973.4,266.1 974.6,262.9 975.8,259.6 977.0,256.3 978.2,253.2 979.4,250.4 980.6,248.1 981.8,246.4 983.0,245.5 984.2,245.6 985.4,247.3 986.6,250.3 987.8,254.2 989.0,258.6 990.2,263.1 991.4,267.2 992.6,270.7 993.8,273.1 995.0,274.0 996.2,273.6 997.4,272.3 998.6,270.4 999.8,267.9 1001.0,265.0 1002.2,261.9 1003.4,258.6 1004.6,255.2 1005.8,252.0 1007.0,249.0 1008.2,246.4 1009.4,244.3 1010.6,242.8 1011.8,242.1 1013.0,242.4 1014.2,244.6 1015.4,248.1 1016.6,252.5 1017.8,257.4 1019.0,262.3 1020.2,266.9 1021.4,270.7 1022.6,273.2 1023.8,274.0 1025.0,273.5 1026.2,272.2 1027.4,270.2 1028.6,267.7 1029.8,264.8 1031.0,261.6 1032.2,258.1 1033.4,254.7 1034.6,251.2 1035.8,248.0 1037.0,245.0 1038.2,242.5 1039.4,240.4 1040.6,239.1 1041.8,238.5 1043.0,239.5 1044.2,242.8 1045.4,247.9 1046.6,253.9 1047.8,260.3 1049.0,266.3 1050.2,271.2 1051.4,274.4 1052.6,275.2 1053.8,274.6 1055.0,273.3 1056.2,271.4 1057.4,269.0 1058.6,266.2 1059.8,263.3 1061.0,260.1 1062.2,257.0 1063.4,254.0 1064.6,251.2 1065.8,248.7 1067.0,246.7 1068.2,245.2 1069.4,244.4 1070.6,244.5 1071.8,245.8 1073.0,248.2 1074.2,251.5 1075.4,255.3 1076.6,259.4 1077.8,263.6 1079.0,267.6 1080.2,271.1 1081.4,273.9 1082.6,275.7 1083.8,276.3 1085.0,275.7 1086.2,274.1 1087.4,271.8 1088.6,268.8 1089.8,265.4 1091.0,261.8 1092.2,258.2 1093.4,254.6 1094.6,251.3 1095.8,248.4 1097.0,246.2 1098.2,244.8 1099.4,244.3 1100.6,245.1 1101.8,246.9 1103.0,249.7 1104.2,253.1 1105.4,256.9 1106.6,261.0 1107.8,265.0 1109.0,268.7 1110.2,271.9 1111.4,274.4 1112.6,275.9 1113.8,276.3 1115.0,275.5 1116.2,273.7 1117.4,271.2 1118.6,268.2 1119.8,264.8 1121.0,261.3 1122.2,257.7 1123.4,254.3 1124.6,251.3 1125.8,248.9 1127.0,247.2 1128.2,246.5 1129.4,247.0 1130.6,248.9 1131.8,251.8 1133.0,255.5 1134.2,259.6 1135.4,263.9 1136.6,267.9 1137.8,271.5 1139.0,274.3 1140.2,276.0 1141.4,276.2 1142.6,275.4 1143.8,273.6 1145.0,271.1 1146.2,268.0 1147.4,264.6 1148.6,260.9 1149.8,257.2 1151.0,253.7 1152.2,250.5 1153.4,247.8 1154.6,245.7 1155.8,244.5 1157.0,244.4 1158.2,245.9 1159.4,248.8 1160.6,252.7 1161.8,257.3 1163.0,262.1 1164.2,266.8 1165.4,270.9 1166.6,274.1 1167.8,276.0 1169.0,276.2 1170.2,275.1 1171.4,273.1 1172.6,270.4 1173.8,267.0 1175.0,263.3 1176.2,259.5 1177.4,255.7 1178.6,252.1 1179.8,249.0 1181.0,246.5 1182.2,244.9 1183.4,244.3 1184.6,244.8 1185.8,246.4 1187.0,248.7 1188.2,251.6 1189.4,254.9 1190.6,258.4 1191.8,262.0 1193.0,265.4 1194.2,268.5 1195.4,271.1 1196.6,272.9 1197.8,273.9 1199.0,273.7 1200.2,272.3 1201.4,269.7 1202.6,266.2 1203.8,262.2 1205.0,257.9 1206.2,253.6 1207.4,249.5 1208.6,245.9 1209.8,243.1 1211.0,241.3 1212.2,240.8 1213.4,241.8 1214.6,244.0 1215.8,247.2 1217.0,251.1 1218.2,255.4 1219.4,259.9 1220.6,264.2 1221.8,268.2 1223.0,271.5 1224.2,273.9 1225.4,275.1 1226.6,274.9 1227.8,273.6 1229.0,271.3 1230.2,268.2 1231.4,264.7 1232.6,260.8 1233.8,256.8 1235.0,252.9 1236.2,249.3 1237.4,246.2 1238.6,243.8 1239.8,242.3 1241.0,242.1 1242.2,243.3 1243.4,245.9 1244.6,249.6 1245.8,253.9 1247.0,258.6 1248.2,263.3 1249.4,267.6 1250.6,271.3 1251.8,273.9 1253.0,275.1 1254.2,274.9 1255.4,273.5 1256.6,271.3 1257.8,268.4 1259.0,264.9 1260.2,261.1 1261.4,257.1 1262.6,253.2 1263.8,249.4 1265.0,246.0 1266.2,243.2 1267.4,241.1 1268.6,239.9 1269.8,239.8 1271.0,241.2 1272.2,243.7 1273.4,247.2 1274.6,251.4 1275.8,255.9 1277.0,260.5 1278.2,265.0 1279.4,268.9 1280.6,272.1 1281.8,274.3 1283.0,275.2 1284.2,274.8 1285.4,273.5 1286.6,271.5 1287.8,269.0 1289.0,266.0 1290.2,262.8 1291.4,259.5 1292.6,256.2 1293.8,253.0 1295.0,250.3 1296.2,248.0 1297.4,246.3 1298.6,245.5 1299.8,245.6 1301.0,247.0 1302.2,249.4 1303.4,252.6 1304.6,256.3 1305.8,260.3 1307.0,264.4 1308.2,268.2 1309.4,271.5 1310.6,274.2 1311.8,275.8 1313.0,276.3 1314.2,276.0 1315.4,275.3 1316.6,274.1 1317.8,272.5 1319.0,270.4 1320.2,267.9 1321.4,264.9 1322.6,261.4 1323.8,257.5" fill="none" stroke="rgba(60,160,60,0.6)" stroke-width="0.8"/><polyline points="818.6,269.4 819.8,273.9 821.0,278.1 822.2,281.1 823.4,282.0 824.6,281.4 825.8,280.2 827.0,278.3 828.2,275.9 829.4,273.2 830.6,270.2 831.8,267.1 833.0,264.1 834.2,261.1 835.4,258.4 836.6,256.0 837.8,254.1 839.0,252.9 840.2,252.3 841.4,252.8 842.6,254.7 843.8,257.6 845.0,261.3 846.2,265.4 847.4,269.6 848.6,273.7 849.8,277.2 851.0,280.0 852.2,281.7 853.4,281.9 854.6,280.8 855.8,278.6 857.0,275.5 858.2,271.7 859.4,267.5 860.6,263.1 861.8,258.8 863.0,254.7 864.2,251.0 865.4,248.1 866.6,246.2 867.8,245.4 869.0,246.2 870.2,248.8 871.4,252.7 872.6,257.6 873.8,263.0 875.0,268.5 876.2,273.8 877.4,278.4 878.6,281.9 879.8,284.0 881.0,284.2 882.2,283.0 883.4,280.8 884.6,277.8 885.8,274.1 887.0,269.9 888.2,265.6 889.4,261.2 890.6,257.1 891.8,253.3 893.0,250.2 894.2,247.9 895.4,246.7 896.6,246.7 897.8,248.3 899.0,251.2 900.2,255.1 901.4,259.6 902.6,264.5 903.8,269.3 905.0,273.7 906.2,277.6 907.4,280.4 908.6,281.8 909.8,281.9 911.0,281.1 912.2,279.8 913.4,278.0 914.6,275.8 915.8,273.3 917.0,270.6 918.2,267.8 919.4,265.0 920.6,262.3 921.8,259.8 923.0,257.6 924.2,255.7 925.4,254.4 926.6,253.6 927.8,253.5 929.0,255.3 930.2,258.8 931.4,263.4 932.6,268.5 933.8,273.6 935.0,278.1 936.2,281.5 937.4,283.1 938.6,283.0 939.8,282.1 941.0,280.7 942.2,278.7 943.4,276.4 944.6,273.8 945.8,271.0 947.0,268.1 948.2,265.2 949.4,262.4 950.6,259.8 951.8,257.5 953.0,255.7 954.2,254.3 955.4,253.5 956.6,253.6 957.8,255.2 959.0,258.2 960.2,262.2 961.4,266.7 962.6,271.4 963.8,275.8 965.0,279.5 966.2,282.1 967.4,283.2 968.6,282.8 969.8,281.5 971.0,279.6 972.2,277.1 973.4,274.1 974.6,270.9 975.8,267.6 977.0,264.3 978.2,261.2 979.4,258.4 980.6,256.1 981.8,254.4 983.0,253.5 984.2,253.6 985.4,255.3 986.6,258.3 987.8,262.2 989.0,266.6 990.2,271.1 991.4,275.2 992.6,278.7 993.8,281.1 995.0,282.0 996.2,281.6 997.4,280.3 998.6,278.4 999.8,275.9 1001.0,273.0 1002.2,269.9 1003.4,266.6 1004.6,263.2 1005.8,260.0 1007.0,257.0 1008.2,254.4 1009.4,252.3 1010.6,250.8 1011.8,250.1 1013.0,250.4 1014.2,252.6 1015.4,256.1 1016.6,260.5 1017.8,265.4 1019.0,270.3 1020.2,274.9 1021.4,278.7 1022.6,281.2 1023.8,282.0 1025.0,281.5 1026.2,280.2 1027.4,278.2 1028.6,275.7 1029.8,272.8 1031.0,269.6 1032.2,266.1 1033.4,262.7 1034.6,259.2 1035.8,256.0 1037.0,253.0 1038.2,250.5 1039.4,248.4 1040.6,247.1 1041.8,246.5 1043.0,247.5 1044.2,250.8 1045.4,255.9 1046.6,261.9 1047.8,268.3 1049.0,274.3 1050.2,279.2 1051.4,282.4 1052.6,283.2 1053.8,282.6 1055.0,281.3 1056.2,279.4 1057.4,277.0 1058.6,274.2 1059.8,271.3 1061.0,268.1 1062.2,265.0 1063.4,262.0 1064.6,259.2 1065.8,256.7 1067.0,254.7 1068.2,253.2 1069.4,252.4 1070.6,252.5 1071.8,253.8 1073.0,256.2 1074.2,259.5 1075.4,263.3 1076.6,267.4 1077.8,271.6 1079.0,275.6 1080.2,279.1 1081.4,281.9 1082.6,283.7 1083.8,284.3 1085.0,283.7 1086.2,282.1 1087.4,279.8 1088.6,276.8 1089.8,273.4 1091.0,269.8 1092.2,266.2 1093.4,262.6 1094.6,259.3 1095.8,256.4 1097.0,254.2 1098.2,252.8 1099.4,252.3 1100.6,253.1 1101.8,254.9 1103.0,257.7 1104.2,261.1 1105.4,264.9 1106.6,269.0 1107.8,273.0 1109.0,276.7 1110.2,279.9 1111.4,282.4 1112.6,283.9 1113.8,284.3 1115.0,283.5 1116.2,281.7 1117.4,279.2 1118.6,276.2 1119.8,272.8 1121.0,269.3 1122.2,265.7 1123.4,262.3 1124.6,259.3 1125.8,256.9 1127.0,255.2 1128.2,254.5 1129.4,255.0 1130.6,256.9 1131.8,259.8 1133.0,263.5 1134.2,267.6 1135.4,271.9 1136.6,275.9 1137.8,279.5 1139.0,282.3 1140.2,284.0 1141.4,284.2 1142.6,283.4 1143.8,281.6 1145.0,279.1 1146.2,276.0 1147.4,272.6 1148.6,268.9 1149.8,265.2 1151.0,261.7 1152.2,258.5 1153.4,255.8 1154.6,253.7 1155.8,252.5 1157.0,252.4 1158.2,253.9 1159.4,256.8 1160.6,260.7 1161.8,265.3 1163.0,270.1 1164.2,274.8 1165.4,278.9 1166.6,282.1 1167.8,284.0 1169.0,284.2 1170.2,283.1 1171.4,281.1 1172.6,278.4 1173.8,275.0 1175.0,271.3 1176.2,267.5 1177.4,263.7 1178.6,260.1 1179.8,257.0 1181.0,254.5 1182.2,252.9 1183.4,252.3 1184.6,252.8 1185.8,254.4 1187.0,256.7 1188.2,259.6 1189.4,262.9 1190.6,266.4 1191.8,270.0 1193.0,273.4 1194.2,276.5 1195.4,279.1 1196.6,280.9 1197.8,281.9 1199.0,281.7 1200.2,280.3 1201.4,277.7 1202.6,274.2 1203.8,270.2 1205.0,265.9 1206.2,261.6 1207.4,257.5 1208.6,253.9 1209.8,251.1 1211.0,249.3 1212.2,248.8 1213.4,249.8 1214.6,252.0 1215.8,255.2 1217.0,259.1 1218.2,263.4 1219.4,267.9 1220.6,272.2 1221.8,276.2 1223.0,279.5 1224.2,281.9 1225.4,283.1 1226.6,282.9 1227.8,281.6 1229.0,279.3 1230.2,276.2 1231.4,272.7 1232.6,268.8 1233.8,264.8 1235.0,260.9 1236.2,257.3 1237.4,254.2 1238.6,251.8 1239.8,250.3 1241.0,250.1 1242.2,251.3 1243.4,253.9 1244.6,257.6 1245.8,261.9 1247.0,266.6 1248.2,271.3 1249.4,275.6 1250.6,279.3 1251.8,281.9 1253.0,283.1 1254.2,282.9 1255.4,281.5 1256.6,279.3 1257.8,276.4 1259.0,272.9 1260.2,269.1 1261.4,265.1 1262.6,261.2 1263.8,257.4 1265.0,254.0 1266.2,251.2 1267.4,249.1 1268.6,247.9 1269.8,247.8 1271.0,249.2 1272.2,251.7 1273.4,255.2 1274.6,259.4 1275.8,263.9 1277.0,268.5 1278.2,273.0 1279.4,276.9 1280.6,280.1 1281.8,282.3 1283.0,283.2 1284.2,282.8 1285.4,281.5 1286.6,279.5 1287.8,277.0 1289.0,274.0 1290.2,270.8 1291.4,267.5 1292.6,264.2 1293.8,261.0 1295.0,258.3 1296.2,256.0 1297.4,254.3 1298.6,253.5 1299.8,253.6 1301.0,255.0 1302.2,257.4 1303.4,260.6 1304.6,264.3 1305.8,268.3 1307.0,272.4 1308.2,276.2 1309.4,279.5 1310.6,282.2 1311.8,283.8 1313.0,284.3 1314.2,284.0 1315.4,283.3 1316.6,282.1 1317.8,280.5 1319.0,278.4 1320.2,275.9 1321.4,272.9 1322.6,269.4 1323.8,265.5" fill="none" stroke="rgba(60,160,60,0.6)" stroke-width="0.8"/>
<polygon points="819.8,277.0 822.0,272.6 826.6,232.0 828.9,206.8 831.9,211.9 834.7,232.0 837.0,259.8 839.2,272.3 846.1,279.9 850.7,249.6 854.1,232.0 859.4,205.5 863.3,221.9 866.7,232.0 871.3,249.6 874.7,269.9 878.2,279.9 882.8,219.4 886.2,181.0 889.6,209.4 893.1,197.0 896.5,224.4 899.9,267.3 903.4,278.7 910.3,257.2 913.7,243.4 918.3,234.6 921.7,252.2 926.3,269.9 930.9,279.9 936.0,274.8 940.0,259.8 945.8,199.3 950.3,244.6 953.8,274.8 960.7,281.2 965.0,266.0 969.8,247.1 973.3,237.1 976.7,219.4 981.3,249.6 985.9,262.3 989.3,274.8 994.0,279.9 998.5,252.2 1003.0,201.8 1007.6,227.0 1011.0,237.1 1014.5,259.8 1017.9,279.9 1022.0,271.5 1025.0,233.0 1028.9,191.3 1032.1,214.4 1036.3,197.0 1039.7,239.6 1043.1,259.8 1047.7,279.9 1052.3,262.3 1056.5,262.3 1061.5,237.1 1065.6,220.7 1069.5,242.2 1072.3,274.8 1076.9,279.9 1081.5,257.2 1084.9,214.4 1087.2,198.2 1089.5,219.4 1091.8,259.8 1094.1,264.8 1097.5,267.3 1102.1,273.6 1106.7,277.4 1111.2,272.3 1114.7,269.9 1119.3,229.5 1122.2,225.8 1125.0,249.6 1128.4,272.3 1133.0,279.9 1137.6,272.3 1141.0,239.6 1144.5,215.6 1147.9,244.6 1151.3,259.8 1155.9,267.3 1160.5,273.6 1165.1,277.4 1169.7,244.6 1173.1,204.3 1175.4,200.6 1177.7,216.9 1180.0,219.4 1183.4,244.6 1186.8,269.9 1191.4,279.9 1197.1,227.0 1200.6,194.7 1204.0,135.2 1206.3,148.9 1208.6,194.7 1212.0,244.6 1216.6,274.8 1222.3,279.9 1226.9,252.2 1229.2,247.1 1232.7,249.6 1237.9,214.4 1240.7,234.6 1244.1,269.9 1248.7,279.9 1255.6,259.8 1260.1,224.4 1264.3,166.1 1267.0,194.7 1270.5,244.6 1275.0,274.8 1278.5,279.9 1283.1,264.8 1288.1,225.8 1291.1,249.6 1295.7,249.6 1300.2,259.8 1306.0,277.4 1312.8,269.9 1319.3,237.1 1323.2,254.7 1326.6,272.3 1331.2,279.9 1335.8,274.8 1338.0,259.8 1338.0,267.4 1335.8,280.7 1331.2,285.2 1326.6,278.5 1323.2,262.9 1319.3,247.4 1312.8,276.3 1306.0,282.9 1300.2,267.4 1295.7,258.5 1291.1,258.5 1288.1,237.4 1283.1,271.9 1278.5,285.2 1275.0,280.7 1270.5,254.0 1267.0,209.6 1264.3,181.9 1260.1,236.3 1255.6,267.4 1248.7,285.2 1244.1,276.3 1240.7,245.2 1237.9,227.4 1232.7,258.5 1229.2,256.3 1226.9,260.7 1222.3,285.2 1216.6,280.7 1212.0,254.0 1208.6,209.6 1206.3,165.2 1204.0,151.9 1200.6,209.6 1197.1,238.5 1191.4,285.2 1186.8,276.3 1183.4,254.0 1180.0,231.8 1177.7,229.6 1175.4,215.2 1173.1,218.5 1169.7,254.0 1165.1,282.9 1160.5,279.6 1155.9,274.1 1151.3,267.4 1147.9,254.0 1144.5,228.5 1141.0,249.7 1137.6,278.5 1133.0,285.2 1128.4,278.5 1125.0,258.5 1122.2,237.4 1119.3,240.7 1114.7,276.3 1111.2,278.5 1106.7,282.9 1102.1,279.6 1097.5,274.1 1094.1,271.9 1091.8,267.4 1089.5,231.8 1087.2,213.0 1084.9,227.4 1081.5,265.2 1076.9,285.2 1072.3,280.7 1069.5,251.9 1065.6,233.0 1061.5,247.4 1056.5,269.6 1052.3,269.6 1047.7,285.2 1043.1,267.4 1039.7,249.7 1036.3,211.8 1032.1,227.4 1028.9,206.3 1025.0,243.8 1022.0,277.8 1017.9,285.2 1014.5,267.4 1011.0,247.4 1007.6,238.5 1003.0,216.3 998.5,260.7 994.0,285.2 989.3,280.7 985.9,269.6 981.3,258.5 976.7,231.8 973.3,247.4 969.8,256.3 965.0,272.9 960.7,286.3 953.8,280.7 950.3,254.0 945.8,214.1 940.0,267.4 936.0,280.7 930.9,285.2 926.3,276.3 921.7,260.7 918.3,245.2 913.7,253.0 910.3,265.2 903.4,284.1 899.9,274.1 896.5,236.3 893.1,211.8 889.6,223.0 886.2,196.3 882.8,231.8 878.2,285.2 874.7,276.3 871.3,258.5 866.7,243.0 863.3,234.0 859.4,219.6 854.1,243.0 850.7,258.5 846.1,285.2 839.2,278.5 837.0,267.4 834.7,243.0 831.9,225.2 828.9,220.8 826.6,243.0 822.0,278.8 819.8,282.6" fill="rgba(60,60,255,0.2)" stroke="none"/><polyline points="819.8,277.0 822.0,272.6 826.6,232.0 828.9,206.8 831.9,211.9 834.7,232.0 837.0,259.8 839.2,272.3 846.1,279.9 850.7,249.6 854.1,232.0 859.4,205.5 863.3,221.9 866.7,232.0 871.3,249.6 874.7,269.9 878.2,279.9 882.8,219.4 886.2,181.0 889.6,209.4 893.1,197.0 896.5,224.4 899.9,267.3 903.4,278.7 910.3,257.2 913.7,243.4 918.3,234.6 921.7,252.2 926.3,269.9 930.9,279.9 936.0,274.8 940.0,259.8 945.8,199.3 950.3,244.6 953.8,274.8 960.7,281.2 965.0,266.0 969.8,247.1 973.3,237.1 976.7,219.4 981.3,249.6 985.9,262.3 989.3,274.8 994.0,279.9 998.5,252.2 1003.0,201.8 1007.6,227.0 1011.0,237.1 1014.5,259.8 1017.9,279.9 1022.0,271.5 1025.0,233.0 1028.9,191.3 1032.1,214.4 1036.3,197.0 1039.7,239.6 1043.1,259.8 1047.7,279.9 1052.3,262.3 1056.5,262.3 1061.5,237.1 1065.6,220.7 1069.5,242.2 1072.3,274.8 1076.9,279.9 1081.5,257.2 1084.9,214.4 1087.2,198.2 1089.5,219.4 1091.8,259.8 1094.1,264.8 1097.5,267.3 1102.1,273.6 1106.7,277.4 1111.2,272.3 1114.7,269.9 1119.3,229.5 1122.2,225.8 1125.0,249.6 1128.4,272.3 1133.0,279.9 1137.6,272.3 1141.0,239.6 1144.5,215.6 1147.9,244.6 1151.3,259.8 1155.9,267.3 1160.5,273.6 1165.1,277.4 1169.7,244.6 1173.1,204.3 1175.4,200.6 1177.7,216.9 1180.0,219.4 1183.4,244.6 1186.8,269.9 1191.4,279.9 1197.1,227.0 1200.6,194.7 1204.0,135.2 1206.3,148.9 1208.6,194.7 1212.0,244.6 1216.6,274.8 1222.3,279.9 1226.9,252.2 1229.2,247.1 1232.7,249.6 1237.9,214.4 1240.7,234.6 1244.1,269.9 1248.7,279.9 1255.6,259.8 1260.1,224.4 1264.3,166.1 1267.0,194.7 1270.5,244.6 1275.0,274.8 1278.5,279.9 1283.1,264.8 1288.1,225.8 1291.1,249.6 1295.7,249.6 1300.2,259.8 1306.0,277.4 1312.8,269.9 1319.3,237.1 1323.2,254.7 1326.6,272.3 1331.2,279.9 1335.8,274.8 1338.0,259.8" fill="none" stroke="rgba(70,70,255,0.55)" stroke-width="0.8"/><polyline points="819.8,282.6 822.0,278.8 826.6,243.0 828.9,220.8 831.9,225.2 834.7,243.0 837.0,267.4 839.2,278.5 846.1,285.2 850.7,258.5 854.1,243.0 859.4,219.6 863.3,234.0 866.7,243.0 871.3,258.5 874.7,276.3 878.2,285.2 882.8,231.8 886.2,196.3 889.6,223.0 893.1,211.8 896.5,236.3 899.9,274.1 903.4,284.1 910.3,265.2 913.7,253.0 918.3,245.2 921.7,260.7 926.3,276.3 930.9,285.2 936.0,280.7 940.0,267.4 945.8,214.1 950.3,254.0 953.8,280.7 960.7,286.3 965.0,272.9 969.8,256.3 973.3,247.4 976.7,231.8 981.3,258.5 985.9,269.6 989.3,280.7 994.0,285.2 998.5,260.7 1003.0,216.3 1007.6,238.5 1011.0,247.4 1014.5,267.4 1017.9,285.2 1022.0,277.8 1025.0,243.8 1028.9,206.3 1032.1,227.4 1036.3,211.8 1039.7,249.7 1043.1,267.4 1047.7,285.2 1052.3,269.6 1056.5,269.6 1061.5,247.4 1065.6,233.0 1069.5,251.9 1072.3,280.7 1076.9,285.2 1081.5,265.2 1084.9,227.4 1087.2,213.0 1089.5,231.8 1091.8,267.4 1094.1,271.9 1097.5,274.1 1102.1,279.6 1106.7,282.9 1111.2,278.5 1114.7,276.3 1119.3,240.7 1122.2,237.4 1125.0,258.5 1128.4,278.5 1133.0,285.2 1137.6,278.5 1141.0,249.7 1144.5,228.5 1147.9,254.0 1151.3,267.4 1155.9,274.1 1160.5,279.6 1165.1,282.9 1169.7,254.0 1173.1,218.5 1175.4,215.2 1177.7,229.6 1180.0,231.8 1183.4,254.0 1186.8,276.3 1191.4,285.2 1197.1,238.5 1200.6,209.6 1204.0,151.9 1206.3,165.2 1208.6,209.6 1212.0,254.0 1216.6,280.7 1222.3,285.2 1226.9,260.7 1229.2,256.3 1232.7,258.5 1237.9,227.4 1240.7,245.2 1244.1,276.3 1248.7,285.2 1255.6,267.4 1260.1,236.3 1264.3,181.9 1267.0,209.6 1270.5,254.0 1275.0,280.7 1278.5,285.2 1283.1,271.9 1288.1,237.4 1291.1,258.5 1295.7,258.5 1300.2,267.4 1306.0,282.9 1312.8,276.3 1319.3,247.4 1323.2,262.9 1326.6,278.5 1331.2,285.2 1335.8,280.7 1338.0,267.4" fill="none" stroke="rgba(70,70,255,0.55)" stroke-width="0.8"/>
<polyline points="819.8,280.0 822.0,276.0 826.6,239.1 828.9,216.2 831.9,220.8 834.7,239.1 837.0,264.3 839.2,275.7 846.1,282.6 850.7,255.1 854.1,239.1 859.4,215.0 863.3,229.9 866.7,239.1 871.3,255.1 874.7,273.5 878.2,282.6 882.8,227.6 886.2,191.0 889.6,218.5 893.1,207.0 896.5,232.2 899.9,271.2 903.4,281.5 910.3,262.0 913.7,249.4 918.3,241.4 921.7,257.4 926.3,273.5 930.9,282.6 936.0,278.0 940.0,264.3 945.8,209.3 950.3,250.5 953.8,278.0 960.7,283.8 965.0,270.0 969.8,252.8 973.3,243.7 976.7,227.6 981.3,255.1 985.9,266.6 989.3,278.0 994.0,282.6 998.5,257.4 1003.0,211.6 1007.6,234.5 1011.0,243.7 1014.5,264.3 1017.9,282.6 1022.0,275.0 1025.0,240.0 1028.9,201.3 1032.1,223.1 1036.3,207.0 1039.7,246.0 1043.1,264.3 1047.7,282.6 1052.3,266.6 1056.5,266.6 1061.5,243.7 1065.6,228.8 1069.5,248.3 1072.3,278.0 1076.9,282.6 1081.5,262.0 1084.9,223.1 1087.2,208.2 1089.5,227.6 1091.8,264.3 1094.1,268.9 1097.5,271.2 1102.1,276.9 1106.7,280.3 1111.2,275.7 1114.7,273.5 1119.3,236.8 1122.2,233.4 1125.0,255.1 1128.4,275.7 1133.0,282.6 1137.6,275.7 1141.0,246.0 1144.5,224.2 1147.9,250.5 1151.3,264.3 1155.9,271.2 1160.5,276.9 1165.1,280.3 1169.7,250.5 1173.1,213.9 1175.4,210.5 1177.7,225.3 1180.0,227.6 1183.4,250.5 1186.8,273.5 1191.4,282.6 1197.1,234.5 1200.6,204.7 1204.0,145.2 1206.3,158.9 1208.6,204.7 1212.0,250.5 1216.6,278.0 1222.3,282.6 1226.9,257.4 1229.2,252.8 1232.7,255.1 1237.9,223.1 1240.7,241.4 1244.1,273.5 1248.7,282.6 1255.6,264.3 1260.1,232.2 1264.3,176.1 1267.0,204.7 1270.5,250.5 1275.0,278.0 1278.5,282.6 1283.1,268.9 1288.1,233.4 1291.1,255.1 1295.7,255.1 1300.2,264.3 1306.0,280.3 1312.8,273.5 1319.3,243.7 1323.2,259.7 1326.6,275.7 1331.2,282.6 1335.8,278.0 1338.0,264.3" fill="none" stroke="#0000ff" stroke-width="3.3" stroke-linejoin="round" stroke-linecap="butt" />
<polyline points="818.6,265.4 819.8,269.9 821.0,274.1 822.2,277.1 823.4,278.0 824.6,277.4 825.8,276.2 827.0,274.3 828.2,271.9 829.4,269.2 830.6,266.2 831.8,263.1 833.0,260.1 834.2,257.1 835.4,254.4 836.6,252.0 837.8,250.1 839.0,248.9 840.2,248.3 841.4,248.8 842.6,250.7 843.8,253.6 845.0,257.3 846.2,261.4 847.4,265.6 848.6,269.7 849.8,273.2 851.0,276.0 852.2,277.7 853.4,277.9 854.6,276.8 855.8,274.6 857.0,271.5 858.2,267.7 859.4,263.5 860.6,259.1 861.8,254.8 863.0,250.7 864.2,247.0 865.4,244.1 866.6,242.2 867.8,241.4 869.0,242.2 870.2,244.8 871.4,248.7 872.6,253.6 873.8,259.0 875.0,264.5 876.2,269.8 877.4,274.4 878.6,277.9 879.8,280.0 881.0,280.2 882.2,279.0 883.4,276.8 884.6,273.8 885.8,270.1 887.0,265.9 888.2,261.6 889.4,257.2 890.6,253.1 891.8,249.3 893.0,246.2 894.2,243.9 895.4,242.7 896.6,242.7 897.8,244.3 899.0,247.2 900.2,251.1 901.4,255.6 902.6,260.5 903.8,265.3 905.0,269.7 906.2,273.6 907.4,276.4 908.6,277.8 909.8,277.9 911.0,277.1 912.2,275.8 913.4,274.0 914.6,271.8 915.8,269.3 917.0,266.6 918.2,263.8 919.4,261.0 920.6,258.3 921.8,255.8 923.0,253.6 924.2,251.7 925.4,250.4 926.6,249.6 927.8,249.5 929.0,251.3 930.2,254.8 931.4,259.4 932.6,264.5 933.8,269.6 935.0,274.1 936.2,277.5 937.4,279.1 938.6,279.0 939.8,278.1 941.0,276.7 942.2,274.7 943.4,272.4 944.6,269.8 945.8,267.0 947.0,264.1 948.2,261.2 949.4,258.4 950.6,255.8 951.8,253.5 953.0,251.7 954.2,250.3 955.4,249.5 956.6,249.6 957.8,251.2 959.0,254.2 960.2,258.2 961.4,262.7 962.6,267.4 963.8,271.8 965.0,275.5 966.2,278.1 967.4,279.2 968.6,278.8 969.8,277.5 971.0,275.6 972.2,273.1 973.4,270.1 974.6,266.9 975.8,263.6 977.0,260.3 978.2,257.2 979.4,254.4 980.6,252.1 981.8,250.4 983.0,249.5 984.2,249.6 985.4,251.3 986.6,254.3 987.8,258.2 989.0,262.6 990.2,267.1 991.4,271.2 992.6,274.7 993.8,277.1 995.0,278.0 996.2,277.6 997.4,276.3 998.6,274.4 999.8,271.9 1001.0,269.0 1002.2,265.9 1003.4,262.6 1004.6,259.2 1005.8,256.0 1007.0,253.0 1008.2,250.4 1009.4,248.3 1010.6,246.8 1011.8,246.1 1013.0,246.4 1014.2,248.6 1015.4,252.1 1016.6,256.5 1017.8,261.4 1019.0,266.3 1020.2,270.9 1021.4,274.7 1022.6,277.2 1023.8,278.0 1025.0,277.5 1026.2,276.2 1027.4,274.2 1028.6,271.7 1029.8,268.8 1031.0,265.6 1032.2,262.1 1033.4,258.7 1034.6,255.2 1035.8,252.0 1037.0,249.0 1038.2,246.5 1039.4,244.4 1040.6,243.1 1041.8,242.5 1043.0,243.5 1044.2,246.8 1045.4,251.9 1046.6,257.9 1047.8,264.3 1049.0,270.3 1050.2,275.2 1051.4,278.4 1052.6,279.2 1053.8,278.6 1055.0,277.3 1056.2,275.4 1057.4,273.0 1058.6,270.2 1059.8,267.3 1061.0,264.1 1062.2,261.0 1063.4,258.0 1064.6,255.2 1065.8,252.7 1067.0,250.7 1068.2,249.2 1069.4,248.4 1070.6,248.5 1071.8,249.8 1073.0,252.2 1074.2,255.5 1075.4,259.3 1076.6,263.4 1077.8,267.6 1079.0,271.6 1080.2,275.1 1081.4,277.9 1082.6,279.7 1083.8,280.3 1085.0,279.7 1086.2,278.1 1087.4,275.8 1088.6,272.8 1089.8,269.4 1091.0,265.8 1092.2,262.2 1093.4,258.6 1094.6,255.3 1095.8,252.4 1097.0,250.2 1098.2,248.8 1099.4,248.3 1100.6,249.1 1101.8,250.9 1103.0,253.7 1104.2,257.1 1105.4,260.9 1106.6,265.0 1107.8,269.0 1109.0,272.7 1110.2,275.9 1111.4,278.4 1112.6,279.9 1113.8,280.3 1115.0,279.5 1116.2,277.7 1117.4,275.2 1118.6,272.2 1119.8,268.8 1121.0,265.3 1122.2,261.7 1123.4,258.3 1124.6,255.3 1125.8,252.9 1127.0,251.2 1128.2,250.5 1129.4,251.0 1130.6,252.9 1131.8,255.8 1133.0,259.5 1134.2,263.6 1135.4,267.9 1136.6,271.9 1137.8,275.5 1139.0,278.3 1140.2,280.0 1141.4,280.2 1142.6,279.4 1143.8,277.6 1145.0,275.1 1146.2,272.0 1147.4,268.6 1148.6,264.9 1149.8,261.2 1151.0,257.7 1152.2,254.5 1153.4,251.8 1154.6,249.7 1155.8,248.5 1157.0,248.4 1158.2,249.9 1159.4,252.8 1160.6,256.7 1161.8,261.3 1163.0,266.1 1164.2,270.8 1165.4,274.9 1166.6,278.1 1167.8,280.0 1169.0,280.2 1170.2,279.1 1171.4,277.1 1172.6,274.4 1173.8,271.0 1175.0,267.3 1176.2,263.5 1177.4,259.7 1178.6,256.1 1179.8,253.0 1181.0,250.5 1182.2,248.9 1183.4,248.3 1184.6,248.8 1185.8,250.4 1187.0,252.7 1188.2,255.6 1189.4,258.9 1190.6,262.4 1191.8,266.0 1193.0,269.4 1194.2,272.5 1195.4,275.1 1196.6,276.9 1197.8,277.9 1199.0,277.7 1200.2,276.3 1201.4,273.7 1202.6,270.2 1203.8,266.2 1205.0,261.9 1206.2,257.6 1207.4,253.5 1208.6,249.9 1209.8,247.1 1211.0,245.3 1212.2,244.8 1213.4,245.8 1214.6,248.0 1215.8,251.2 1217.0,255.1 1218.2,259.4 1219.4,263.9 1220.6,268.2 1221.8,272.2 1223.0,275.5 1224.2,277.9 1225.4,279.1 1226.6,278.9 1227.8,277.6 1229.0,275.3 1230.2,272.2 1231.4,268.7 1232.6,264.8 1233.8,260.8 1235.0,256.9 1236.2,253.3 1237.4,250.2 1238.6,247.8 1239.8,246.3 1241.0,246.1 1242.2,247.3 1243.4,249.9 1244.6,253.6 1245.8,257.9 1247.0,262.6 1248.2,267.3 1249.4,271.6 1250.6,275.3 1251.8,277.9 1253.0,279.1 1254.2,278.9 1255.4,277.5 1256.6,275.3 1257.8,272.4 1259.0,268.9 1260.2,265.1 1261.4,261.1 1262.6,257.2 1263.8,253.4 1265.0,250.0 1266.2,247.2 1267.4,245.1 1268.6,243.9 1269.8,243.8 1271.0,245.2 1272.2,247.7 1273.4,251.2 1274.6,255.4 1275.8,259.9 1277.0,264.5 1278.2,269.0 1279.4,272.9 1280.6,276.1 1281.8,278.3 1283.0,279.2 1284.2,278.8 1285.4,277.5 1286.6,275.5 1287.8,273.0 1289.0,270.0 1290.2,266.8 1291.4,263.5 1292.6,260.2 1293.8,257.0 1295.0,254.3 1296.2,252.0 1297.4,250.3 1298.6,249.5 1299.8,249.6 1301.0,251.0 1302.2,253.4 1303.4,256.6 1304.6,260.3 1305.8,264.3 1307.0,268.4 1308.2,272.2 1309.4,275.5 1310.6,278.2 1311.8,279.8 1313.0,280.3 1314.2,280.0 1315.4,279.3 1316.6,278.1 1317.8,276.5 1319.0,274.4 1320.2,271.9 1321.4,268.9 1322.6,265.4 1323.8,261.5" fill="none" stroke="#008000" stroke-width="3.3" stroke-linejoin="round" stroke-linecap="butt" stroke-dasharray="10,10" />
<polyline points="819.8,281.5 825.0,278.0 832.4,273.5 835.0,276.0 838.1,280.3 845.0,280.0 850.0,279.0 855.3,275.7 860.0,276.5 866.7,274.6 872.0,279.0 880.0,280.0 886.2,268.9 891.9,262.0 895.0,270.0 898.8,279.2 910.0,280.5 920.0,280.0 935.0,281.0 950.0,281.5 965.0,281.0 980.0,281.5 999.6,278.0 1010.0,280.0 1020.0,280.0 1027.1,273.5 1032.0,274.0 1036.3,267.7 1040.0,274.0 1045.4,278.0 1055.0,280.5 1070.0,281.0 1080.0,281.0 1084.2,273.5 1087.0,280.5 1100.0,281.5 1120.0,281.5 1139.0,281.0 1142.2,276.9 1145.0,280.5 1160.0,281.5 1170.0,280.0 1175.0,278.0 1177.7,273.5 1180.0,280.0 1190.0,281.0 1197.0,278.0 1201.0,266.0 1205.2,262.0 1209.0,264.0 1212.0,273.5 1217.0,280.0 1230.0,281.0 1237.2,276.9 1240.0,280.5 1255.0,281.0 1260.0,276.0 1264.3,267.7 1269.3,275.7 1275.0,280.0 1286.5,279.2 1300.0,281.0 1320.0,281.5 1335.8,282.6" fill="none" stroke="#ff0000" stroke-width="3.3" stroke-linejoin="round" stroke-linecap="butt" />
<line x1="1071" y1="63.4" x2="1125.2" y2="63.4" stroke="#0000ff" stroke-width="3"/>
<text transform="translate(1131.00,71.60) scale(0.8760,1)" font-size="21.2" font-weight="bold" fill="#000">P</text>
<line x1="1153.3" y1="63.4" x2="1205" y2="63.4" stroke="#008000" stroke-width="3" stroke-dasharray="10,10.5"/>
<text transform="translate(1212.72,71.60) scale(0.8648,1)" font-size="21.2" font-weight="bold" fill="#000">ET</text>
<line x1="1246.6" y1="63.4" x2="1300.7" y2="63.4" stroke="#ff0000" stroke-width="3"/>
<text transform="translate(1306.45,71.60) scale(0.8827,1)" font-size="21.2" font-weight="bold" fill="#000">Q</text>
<text transform="translate(821.59,84.30) scale(1.0799,1)" font-size="31" font-weight="normal" fill="#000">b</text>
<text transform="translate(713.00,251.00) scale(0.92,1) rotate(-90) scale(1.0164,1)" font-size="26.3" font-weight="bold" fill="#262626">Water Balance</text>
<text transform="translate(742.60,320.86) scale(0.92,1) rotate(-90) scale(1.0033,1)" font-size="26.3" font-weight="bold" fill="#262626">Components (mm/month)</text>
<rect x="112.0" y="372.2" width="545.2" height="248.3" fill="none" stroke="#1e1e1e" stroke-width="3.5"/>
<line x1="169.39" y1="372.2" x2="169.39" y2="380.2" stroke="#1e1e1e" stroke-width="2.9"/>
<line x1="169.39" y1="620.5" x2="169.39" y2="612.5" stroke="#1e1e1e" stroke-width="2.9"/>
<text transform="translate(145.34,652.40) scale(0.9217,1)" font-size="23.4" font-weight="bold" fill="#1e1e1e">2005</text>
<line x1="312.86" y1="372.2" x2="312.86" y2="380.2" stroke="#1e1e1e" stroke-width="2.9"/>
<line x1="312.86" y1="620.5" x2="312.86" y2="612.5" stroke="#1e1e1e" stroke-width="2.9"/>
<text transform="translate(288.81,652.40) scale(0.9259,1)" font-size="23.4" font-weight="bold" fill="#1e1e1e">2010</text>
<line x1="456.34" y1="372.2" x2="456.34" y2="380.2" stroke="#1e1e1e" stroke-width="2.9"/>
<line x1="456.34" y1="620.5" x2="456.34" y2="612.5" stroke="#1e1e1e" stroke-width="2.9"/>
<text transform="translate(432.29,652.40) scale(0.9217,1)" font-size="23.4" font-weight="bold" fill="#1e1e1e">2015</text>
<line x1="599.81" y1="372.2" x2="599.81" y2="380.2" stroke="#1e1e1e" stroke-width="2.9"/>
<line x1="599.81" y1="620.5" x2="599.81" y2="612.5" stroke="#1e1e1e" stroke-width="2.9"/>
<text transform="translate(575.76,652.40) scale(0.9259,1)" font-size="23.4" font-weight="bold" fill="#1e1e1e">2020</text>
<line x1="112.0" y1="397.02" x2="120.0" y2="397.02" stroke="#1e1e1e" stroke-width="2.9"/>
<line x1="657.2" y1="397.02" x2="649.2" y2="397.02" stroke="#1e1e1e" stroke-width="2.9"/>
<text transform="translate(67.62,406.22) scale(0.9277,1)" font-size="23.4" font-weight="bold" fill="#1e1e1e">300</text>
<line x1="112.0" y1="446.68" x2="120.0" y2="446.68" stroke="#1e1e1e" stroke-width="2.9"/>
<line x1="657.2" y1="446.68" x2="649.2" y2="446.68" stroke="#1e1e1e" stroke-width="2.9"/>
<text transform="translate(67.39,455.88) scale(0.9335,1)" font-size="23.4" font-weight="bold" fill="#1e1e1e">200</text>
<line x1="112.0" y1="496.34" x2="120.0" y2="496.34" stroke="#1e1e1e" stroke-width="2.9"/>
<line x1="657.2" y1="496.34" x2="649.2" y2="496.34" stroke="#1e1e1e" stroke-width="2.9"/>
<text transform="translate(66.71,505.54) scale(0.9513,1)" font-size="23.4" font-weight="bold" fill="#1e1e1e">100</text>
<line x1="112.0" y1="546.00" x2="120.0" y2="546.00" stroke="#1e1e1e" stroke-width="2.9"/>
<line x1="657.2" y1="546.00" x2="649.2" y2="546.00" stroke="#1e1e1e" stroke-width="2.9"/>
<text transform="translate(90.38,555.20) scale(1.0372,1)" font-size="23.4" font-weight="bold" fill="#1e1e1e">0</text>
<line x1="112.0" y1="595.66" x2="120.0" y2="595.66" stroke="#1e1e1e" stroke-width="2.9"/>
<line x1="657.2" y1="595.66" x2="649.2" y2="595.66" stroke="#1e1e1e" stroke-width="2.9"/>
<text transform="translate(58.65,604.86) scale(0.9621,1)" font-size="23.4" font-weight="bold" fill="#1e1e1e">-100</text>
<polygon points="132.4,534.9 139.8,466.1 144.0,500.0 150.3,555.5 157.1,544.5 164.0,500.5 170.9,466.1 176.4,503.3 183.3,550.0 188.8,544.5 194.3,495.0 197.8,456.5 205.3,495.0 212.0,540.0 219.0,544.5 225.9,499.1 230.0,511.5 238.3,541.8 249.3,519.8 257.2,478.5 262.4,530.0 266.5,548.6 272.0,543.1 278.0,530.0 285.8,492.3 294.0,541.8 302.3,544.5 308.0,520.0 314.6,475.8 322.9,519.8 330.0,540.0 339.4,477.1 343.5,510.0 347.6,481.3 353.0,530.0 360.0,561.0 364.1,534.9 370.0,525.0 376.5,484.0 382.0,550.0 390.0,530.0 397.9,462.0 403.4,544.5 413.0,543.1 422.0,525.0 432.3,503.3 437.8,550.0 445.0,545.0 457.0,489.5 463.0,515.0 470.8,552.8 478.0,520.0 487.3,463.4 495.5,544.5 505.0,520.0 514.8,434.0 519.0,470.0 524.4,540.0 524.4,603.9 520.0,590.0 515.0,540.0 510.0,563.8 505.0,585.0 498.3,603.6 492.0,580.0 485.9,522.5 477.0,560.0 468.0,592.6 462.0,575.0 455.6,530.8 450.0,565.0 443.3,592.6 437.0,575.0 430.9,541.8 420.0,570.0 407.5,589.9 403.0,570.0 397.9,522.5 390.0,570.0 384.8,588.5 380.0,570.0 376.5,541.8 368.0,570.0 360.0,599.5 350.0,560.0 340.8,530.8 335.0,570.0 328.4,602.3 320.0,570.0 314.6,522.5 308.0,560.0 302.3,588.5 294.0,570.0 285.8,530.8 275.0,575.0 265.1,605.0 262.0,580.0 257.5,511.5 248.0,560.0 238.3,602.3 231.4,561.0 227.3,522.5 220.0,580.0 214.9,616.0 208.0,590.0 202.5,563.8 197.8,506.0 192.0,560.0 186.0,599.5 178.0,560.0 170.9,508.8 162.0,570.0 154.4,606.4 146.0,570.0 139.3,528.0 132.4,572.0" fill="rgba(60,60,255,0.2)" stroke="none"/><polyline points="132.4,534.9 139.8,466.1 144.0,500.0 150.3,555.5 157.1,544.5 164.0,500.5 170.9,466.1 176.4,503.3 183.3,550.0 188.8,544.5 194.3,495.0 197.8,456.5 205.3,495.0 212.0,540.0 219.0,544.5 225.9,499.1 230.0,511.5 238.3,541.8 249.3,519.8 257.2,478.5 262.4,530.0 266.5,548.6 272.0,543.1 278.0,530.0 285.8,492.3 294.0,541.8 302.3,544.5 308.0,520.0 314.6,475.8 322.9,519.8 330.0,540.0 339.4,477.1 343.5,510.0 347.6,481.3 353.0,530.0 360.0,561.0 364.1,534.9 370.0,525.0 376.5,484.0 382.0,550.0 390.0,530.0 397.9,462.0 403.4,544.5 413.0,543.1 422.0,525.0 432.3,503.3 437.8,550.0 445.0,545.0 457.0,489.5 463.0,515.0 470.8,552.8 478.0,520.0 487.3,463.4 495.5,544.5 505.0,520.0 514.8,434.0 519.0,470.0 524.4,540.0" fill="none" stroke="rgba(70,70,255,0.55)" stroke-width="0.8"/><polyline points="132.4,572.0 139.3,528.0 146.0,570.0 154.4,606.4 162.0,570.0 170.9,508.8 178.0,560.0 186.0,599.5 192.0,560.0 197.8,506.0 202.5,563.8 208.0,590.0 214.9,616.0 220.0,580.0 227.3,522.5 231.4,561.0 238.3,602.3 248.0,560.0 257.5,511.5 262.0,580.0 265.1,605.0 275.0,575.0 285.8,530.8 294.0,570.0 302.3,588.5 308.0,560.0 314.6,522.5 320.0,570.0 328.4,602.3 335.0,570.0 340.8,530.8 350.0,560.0 360.0,599.5 368.0,570.0 376.5,541.8 380.0,570.0 384.8,588.5 390.0,570.0 397.9,522.5 403.0,570.0 407.5,589.9 420.0,570.0 430.9,541.8 437.0,575.0 443.3,592.6 450.0,565.0 455.6,530.8 462.0,575.0 468.0,592.6 477.0,560.0 485.9,522.5 492.0,580.0 498.3,603.6 505.0,585.0 510.0,563.8 515.0,540.0 520.0,590.0 524.4,603.9" fill="none" stroke="rgba(70,70,255,0.55)" stroke-width="0.8"/>
<polygon points="558.1,541.4 565.0,505.0 572.5,458.1 578.0,510.0 583.7,551.0 590.0,530.0 599.1,474.1 604.0,520.0 609.4,528.6 615.0,545.0 619.0,555.0 625.4,512.6 631.8,507.8 638.2,530.0 644.6,530.0 651.0,490.1 655.0,480.0 655.0,575.0 651.0,579.9 644.6,592.7 638.2,580.0 631.8,565.0 625.0,575.0 619.0,597.5 610.0,580.0 604.0,565.0 599.1,530.0 590.0,590.0 582.1,591.1 578.0,570.0 572.5,510.0 565.0,560.0 558.1,587.9" fill="rgba(60,60,255,0.2)" stroke="none"/><polyline points="558.1,541.4 565.0,505.0 572.5,458.1 578.0,510.0 583.7,551.0 590.0,530.0 599.1,474.1 604.0,520.0 609.4,528.6 615.0,545.0 619.0,555.0 625.4,512.6 631.8,507.8 638.2,530.0 644.6,530.0 651.0,490.1 655.0,480.0" fill="none" stroke="rgba(70,70,255,0.55)" stroke-width="0.8"/><polyline points="558.1,587.9 565.0,560.0 572.5,510.0 578.0,570.0 582.1,591.1 590.0,590.0 599.1,530.0 604.0,565.0 610.0,580.0 619.0,597.5 625.0,575.0 631.8,565.0 638.2,580.0 644.6,592.7 651.0,579.9 655.0,575.0" fill="none" stroke="rgba(70,70,255,0.55)" stroke-width="0.8"/>
<polygon points="130.2,558.9 135.5,534.0 140.6,486.4 144.3,513.5 148.7,551.6 154.4,577.1 160.4,551.6 166.3,513.5 170.3,483.6 176.5,534.0 184.6,571.6 191.2,542.8 198.4,468.5 201.4,501.7 205.8,522.3 213.5,577.1 219.0,548.7 227.3,513.9 230.0,519.3 233.7,534.0 241.0,570.3 249.8,528.1 257.2,480.5 261.6,525.2 266.0,566.3 269.3,575.8 276.0,550.5 280.6,522.3 284.4,507.0 290.9,519.3 295.9,557.5 298.1,570.3 306.1,536.9 314.6,479.5 319.3,513.5 327.0,577.1 334.0,528.1 340.8,465.8 343.0,483.5 347.6,512.5 353.0,551.6 357.3,571.6 364.8,539.9 370.6,525.2 375.1,515.3 379.4,542.8 384.5,576.5 391.2,531.1 397.9,476.8 402.9,536.9 407.3,557.5 413.0,571.6 422.0,542.8 427.8,530.5 430.9,509.8 436.6,548.7 440.5,570.3 448.4,536.9 455.6,489.1 460.1,522.3 469.4,567.5 478.1,541.4 485.9,479.5 489.4,509.1 494.3,547.9 499.6,570.3 505.6,541.4 510.5,498.1 515.8,425.4 518.5,465.7 521.8,525.2 526.0,578.6 533.1,547.9 538.8,516.1 543.7,524.1 548.5,511.3 552.5,541.4 556.5,572.2 562.2,557.6 567.1,515.5 575.7,460.0 578.4,502.6 581.7,544.7 586.9,573.8 593.0,547.9 599.1,498.5 604.3,541.4 606.2,543.3 609.2,544.7 614.2,572.2 622.1,538.2 630.2,512.9 633.4,528.5 636.6,546.5 636.6,555.5 633.4,537.5 630.2,521.9 622.1,547.2 614.2,581.2 609.2,553.7 606.2,552.3 604.3,550.4 599.1,507.5 593.0,556.9 586.9,582.8 581.7,553.7 578.4,511.6 575.7,469.0 567.1,524.5 562.2,566.6 556.5,581.2 552.5,550.4 548.5,520.3 543.7,533.1 538.8,525.1 533.1,556.9 526.0,587.6 521.8,534.2 518.5,480.7 515.8,446.4 510.5,513.1 505.6,550.4 499.6,579.3 494.3,556.9 489.4,518.1 485.9,488.5 478.1,550.4 469.4,576.5 460.1,531.3 455.6,498.1 448.4,545.9 440.5,579.3 436.6,557.7 430.9,518.8 427.8,539.5 422.0,551.8 413.0,580.6 407.3,566.5 402.9,545.9 397.9,485.8 391.2,540.1 384.5,585.5 379.4,551.8 375.1,524.3 370.6,534.2 364.8,548.9 357.3,580.6 353.0,560.6 347.6,521.5 343.0,492.5 340.8,474.8 334.0,537.1 327.0,586.1 319.3,522.5 314.6,488.5 306.1,545.9 298.1,579.3 295.9,566.5 290.9,528.3 284.4,516.0 280.6,531.3 276.0,559.5 269.3,584.8 266.0,575.3 261.6,534.2 257.2,489.5 249.8,537.1 241.0,579.3 233.7,543.0 230.0,528.3 227.3,522.9 219.0,557.7 213.5,586.1 205.8,531.3 201.4,510.7 198.4,477.5 191.2,551.8 184.6,580.6 176.5,543.0 170.3,492.6 166.3,522.5 160.4,560.6 154.4,586.1 148.7,560.6 144.3,522.5 140.6,495.4 135.5,543.0 130.2,567.9" fill="rgba(255,80,80,0.22)" stroke="none"/><polyline points="130.2,558.9 135.5,534.0 140.6,486.4 144.3,513.5 148.7,551.6 154.4,577.1 160.4,551.6 166.3,513.5 170.3,483.6 176.5,534.0 184.6,571.6 191.2,542.8 198.4,468.5 201.4,501.7 205.8,522.3 213.5,577.1 219.0,548.7 227.3,513.9 230.0,519.3 233.7,534.0 241.0,570.3 249.8,528.1 257.2,480.5 261.6,525.2 266.0,566.3 269.3,575.8 276.0,550.5 280.6,522.3 284.4,507.0 290.9,519.3 295.9,557.5 298.1,570.3 306.1,536.9 314.6,479.5 319.3,513.5 327.0,577.1 334.0,528.1 340.8,465.8 343.0,483.5 347.6,512.5 353.0,551.6 357.3,571.6 364.8,539.9 370.6,525.2 375.1,515.3 379.4,542.8 384.5,576.5 391.2,531.1 397.9,476.8 402.9,536.9 407.3,557.5 413.0,571.6 422.0,542.8 427.8,530.5 430.9,509.8 436.6,548.7 440.5,570.3 448.4,536.9 455.6,489.1 460.1,522.3 469.4,567.5 478.1,541.4 485.9,479.5 489.4,509.1 494.3,547.9 499.6,570.3 505.6,541.4 510.5,498.1 515.8,425.4 518.5,465.7 521.8,525.2 526.0,578.6 533.1,547.9 538.8,516.1 543.7,524.1 548.5,511.3 552.5,541.4 556.5,572.2 562.2,557.6 567.1,515.5 575.7,460.0 578.4,502.6 581.7,544.7 586.9,573.8 593.0,547.9 599.1,498.5 604.3,541.4 606.2,543.3 609.2,544.7 614.2,572.2 622.1,538.2 630.2,512.9 633.4,528.5 636.6,546.5" fill="none" stroke="rgba(255,100,100,0.6)" stroke-width="0.8"/><polyline points="130.2,567.9 135.5,543.0 140.6,495.4 144.3,522.5 148.7,560.6 154.4,586.1 160.4,560.6 166.3,522.5 170.3,492.6 176.5,543.0 184.6,580.6 191.2,551.8 198.4,477.5 201.4,510.7 205.8,531.3 213.5,586.1 219.0,557.7 227.3,522.9 230.0,528.3 233.7,543.0 241.0,579.3 249.8,537.1 257.2,489.5 261.6,534.2 266.0,575.3 269.3,584.8 276.0,559.5 280.6,531.3 284.4,516.0 290.9,528.3 295.9,566.5 298.1,579.3 306.1,545.9 314.6,488.5 319.3,522.5 327.0,586.1 334.0,537.1 340.8,474.8 343.0,492.5 347.6,521.5 353.0,560.6 357.3,580.6 364.8,548.9 370.6,534.2 375.1,524.3 379.4,551.8 384.5,585.5 391.2,540.1 397.9,485.8 402.9,545.9 407.3,566.5 413.0,580.6 422.0,551.8 427.8,539.5 430.9,518.8 436.6,557.7 440.5,579.3 448.4,545.9 455.6,498.1 460.1,531.3 469.4,576.5 478.1,550.4 485.9,488.5 489.4,518.1 494.3,556.9 499.6,579.3 505.6,550.4 510.5,513.1 515.8,446.4 518.5,480.7 521.8,534.2 526.0,587.6 533.1,556.9 538.8,525.1 543.7,533.1 548.5,520.3 552.5,550.4 556.5,581.2 562.2,566.6 567.1,524.5 575.7,469.0 578.4,511.6 581.7,553.7 586.9,582.8 593.0,556.9 599.1,507.5 604.3,550.4 606.2,552.3 609.2,553.7 614.2,581.2 622.1,547.2 630.2,521.9 633.4,537.5 636.6,555.5" fill="none" stroke="rgba(255,100,100,0.6)" stroke-width="0.8"/>
<polyline points="132.0,560.0 135.5,540.0 139.8,489.5 144.3,520.0 148.7,560.0 154.4,585.8 160.4,560.0 166.3,520.0 170.9,485.4 176.5,530.0 182.0,560.0 186.0,578.9 191.2,550.0 197.8,484.0 201.4,510.0 205.8,540.0 210.0,570.0 214.9,594.0 219.0,560.0 225.9,519.8 229.3,522.0 233.7,540.0 239.6,581.6 249.8,535.0 255.7,500.4 261.6,540.0 265.1,583.0 272.0,561.0 276.0,558.0 280.6,530.0 285.8,514.3 291.3,555.5 298.0,565.0 303.0,555.0 309.1,539.0 314.6,495.0 319.3,525.0 328.4,577.5 334.0,545.0 340.8,504.6 343.5,528.0 347.6,506.0 353.0,545.0 358.6,572.0 368.3,550.0 372.0,530.0 376.5,503.3 379.4,540.0 384.8,572.0 391.2,545.0 397.9,495.0 403.4,555.5 408.0,560.0 413.0,561.0 422.6,547.3 429.5,530.8 435.0,555.5 443.3,572.0 450.0,545.0 457.0,511.5 462.0,535.0 470.8,572.0 478.1,545.0 484.6,484.4 489.4,520.0 494.1,566.5 501.0,577.5 505.6,560.0 510.0,531.8 513.2,474.1 519.6,509.4 524.4,560.6" fill="none" stroke="#0000ff" stroke-width="3.3" stroke-linejoin="round" stroke-linecap="butt" stroke-dasharray="9,7" />
<polyline points="558.1,567.0 565.0,530.0 572.5,474.1 576.0,500.0 580.5,563.8 586.9,570.3 593.0,545.0 599.1,491.7 604.6,551.0 609.4,545.0 614.0,560.0 619.0,579.9 623.8,541.4 631.8,533.0 638.2,554.2 644.6,567.0 651.0,541.4 655.0,535.0" fill="none" stroke="#0000ff" stroke-width="3.3" stroke-linejoin="round" stroke-linecap="butt" stroke-dasharray="9,7" />
<polyline points="130.2,563.4 135.5,538.5 140.6,490.9 144.3,518.0 148.7,556.1 154.4,581.6 160.4,556.1 166.3,518.0 170.3,488.1 176.5,538.5 184.6,576.1 191.2,547.3 198.4,473.0 201.4,506.2 205.8,526.8 213.5,581.6 219.0,553.2 227.3,518.4 230.0,523.8 233.7,538.5 241.0,574.8 249.8,532.6 257.2,485.0 261.6,529.7 266.0,570.8 269.3,580.3 276.0,555.0 280.6,526.8 284.4,511.5 290.9,523.8 295.9,562.0 298.1,574.8 306.1,541.4 314.6,484.0 319.3,518.0 327.0,581.6 334.0,532.6 340.8,470.3 343.0,488.0 347.6,517.0 353.0,556.1 357.3,576.1 364.8,544.4 370.6,529.7 375.1,519.8 379.4,547.3 384.5,581.0 391.2,535.6 397.9,481.3 402.9,541.4 407.3,562.0 413.0,576.1 422.0,547.3 427.8,535.0 430.9,514.3 436.6,553.2 440.5,574.8 448.4,541.4 455.6,493.6 460.1,526.8 469.4,572.0 478.1,545.9 485.9,484.0 489.4,513.6 494.3,552.4 499.6,574.8 505.6,545.9 510.5,507.1 515.8,440.4 518.5,474.7 521.8,529.7 526.0,583.1 533.1,552.4 538.8,520.6 543.7,528.6 548.5,515.8 552.5,545.9 556.5,576.7 562.2,562.1 567.1,520.0 575.7,464.5 578.4,507.1 581.7,549.2 586.9,578.3 593.0,552.4 599.1,503.0 604.3,545.9 606.2,547.8 609.2,549.2 614.2,576.7 622.1,542.7 630.2,517.4 633.4,533.0 636.6,551.0" fill="none" stroke="#ff0000" stroke-width="3.3" stroke-linejoin="round" stroke-linecap="butt" stroke-dasharray="10,8" />
<line x1="335.2" y1="399.3" x2="389" y2="399.3" stroke="#0000ff" stroke-width="3"/>
<text transform="translate(395.73,407.20) scale(0.9135,1)" font-size="21.2" font-weight="bold" fill="#000">GRACE/FO</text>
<line x1="507" y1="399.3" x2="558.5" y2="399.3" stroke="#ff0000" stroke-width="3" stroke-dasharray="10,10.5"/>
<text transform="translate(566.78,407.20) scale(0.9595,1)" font-size="21.2" font-weight="bold" fill="#000">P-ET-Q</text>
<text transform="translate(136.86,416.00) scale(1.1163,1)" font-size="30" font-weight="normal" fill="#000">c</text>
<text transform="translate(18.30,620.87) scale(0.92,1) rotate(-90) scale(1.0195,1)" font-size="26.3" font-weight="bold" fill="#262626">Total Water Storage</text>
<text transform="translate(47.80,631.97) scale(0.92,1) rotate(-90) scale(1.0137,1)" font-size="26.3" font-weight="bold" fill="#262626">Changes (mm/month)</text>
<rect x="793.5" y="373.5" width="544.8" height="247.5" fill="none" stroke="#1e1e1e" stroke-width="3.5"/>
<line x1="850.85" y1="373.5" x2="850.85" y2="381.5" stroke="#1e1e1e" stroke-width="2.9"/>
<line x1="850.85" y1="621.0" x2="850.85" y2="613.0" stroke="#1e1e1e" stroke-width="2.9"/>
<text transform="translate(826.80,653.00) scale(0.9217,1)" font-size="23.4" font-weight="bold" fill="#1e1e1e">2005</text>
<line x1="994.22" y1="373.5" x2="994.22" y2="381.5" stroke="#1e1e1e" stroke-width="2.9"/>
<line x1="994.22" y1="621.0" x2="994.22" y2="613.0" stroke="#1e1e1e" stroke-width="2.9"/>
<text transform="translate(970.17,653.00) scale(0.9259,1)" font-size="23.4" font-weight="bold" fill="#1e1e1e">2010</text>
<line x1="1137.58" y1="373.5" x2="1137.58" y2="381.5" stroke="#1e1e1e" stroke-width="2.9"/>
<line x1="1137.58" y1="621.0" x2="1137.58" y2="613.0" stroke="#1e1e1e" stroke-width="2.9"/>
<text transform="translate(1113.54,653.00) scale(0.9217,1)" font-size="23.4" font-weight="bold" fill="#1e1e1e">2015</text>
<line x1="1280.95" y1="373.5" x2="1280.95" y2="381.5" stroke="#1e1e1e" stroke-width="2.9"/>
<line x1="1280.95" y1="621.0" x2="1280.95" y2="613.0" stroke="#1e1e1e" stroke-width="2.9"/>
<text transform="translate(1256.90,653.00) scale(0.9259,1)" font-size="23.4" font-weight="bold" fill="#1e1e1e">2020</text>
<line x1="793.5" y1="398.25" x2="801.5" y2="398.25" stroke="#1e1e1e" stroke-width="2.9"/>
<line x1="1338.3" y1="398.25" x2="1330.3" y2="398.25" stroke="#1e1e1e" stroke-width="2.9"/>
<text transform="translate(749.02,407.45) scale(0.9277,1)" font-size="23.4" font-weight="bold" fill="#1e1e1e">300</text>
<line x1="793.5" y1="447.75" x2="801.5" y2="447.75" stroke="#1e1e1e" stroke-width="2.9"/>
<line x1="1338.3" y1="447.75" x2="1330.3" y2="447.75" stroke="#1e1e1e" stroke-width="2.9"/>
<text transform="translate(748.79,456.95) scale(0.9335,1)" font-size="23.4" font-weight="bold" fill="#1e1e1e">200</text>
<line x1="793.5" y1="497.25" x2="801.5" y2="497.25" stroke="#1e1e1e" stroke-width="2.9"/>
<line x1="1338.3" y1="497.25" x2="1330.3" y2="497.25" stroke="#1e1e1e" stroke-width="2.9"/>
<text transform="translate(748.11,506.45) scale(0.9513,1)" font-size="23.4" font-weight="bold" fill="#1e1e1e">100</text>
<line x1="793.5" y1="546.75" x2="801.5" y2="546.75" stroke="#1e1e1e" stroke-width="2.9"/>
<line x1="1338.3" y1="546.75" x2="1330.3" y2="546.75" stroke="#1e1e1e" stroke-width="2.9"/>
<text transform="translate(771.78,555.95) scale(1.0372,1)" font-size="23.4" font-weight="bold" fill="#1e1e1e">0</text>
<line x1="793.5" y1="596.25" x2="801.5" y2="596.25" stroke="#1e1e1e" stroke-width="2.9"/>
<line x1="1338.3" y1="596.25" x2="1330.3" y2="596.25" stroke="#1e1e1e" stroke-width="2.9"/>
<text transform="translate(740.05,605.45) scale(0.9621,1)" font-size="23.4" font-weight="bold" fill="#1e1e1e">-100</text>
<polygon points="811.9,536.9 815.8,538.9 821.0,526.8 827.4,514.4 834.0,533.8 841.7,553.8 850.0,526.7 858.6,498.7 863.7,492.0 870.2,514.4 878.0,502.7 883.2,495.4 891.0,494.6 897.0,502.6 904.0,515.2 909.1,514.2 915.6,516.6 922.1,540.1 931.2,554.5 936.4,543.6 942.9,535.4 950.6,550.3 961.0,564.6 971.4,531.9 977.0,534.9 984.4,549.2 993.0,529.3 1002.5,509.7 1010.3,528.7 1014.2,534.4 1023.3,509.8 1031.1,490.1 1037.5,501.8 1045.0,518.0 1051.8,524.0 1058.3,499.9 1064.8,519.6 1069.0,526.6 1075.0,531.0 1082.4,526.1 1088.0,533.1 1096.9,554.6 1102.7,563.7 1112.9,549.0 1123.0,566.1 1131.7,577.5 1140.4,551.3 1149.1,564.6 1160.7,583.9 1172.3,529.1 1181.0,541.5 1190.0,531.7 1201.4,500.6 1208.0,512.0 1215.9,525.3 1223.1,524.8 1230.4,508.3 1239.1,530.3 1247.0,521.6 1257.9,498.6 1268.1,516.9 1279.7,526.7 1288.0,529.1 1297.1,541.5 1311.6,549.3 1318.0,555.0 1326.1,566.7 1331.9,569.6 1337.7,560.9 1337.7,578.9 1331.9,587.6 1326.1,584.7 1318.0,573.0 1311.6,567.3 1297.1,564.6 1288.0,555.9 1279.7,556.7 1268.1,549.1 1257.9,532.6 1247.0,553.2 1239.1,560.2 1230.4,536.4 1223.1,554.8 1215.9,557.3 1208.0,541.9 1201.4,528.7 1190.0,559.7 1181.0,569.5 1172.3,554.4 1160.7,597.6 1149.1,582.0 1140.4,572.1 1131.7,597.9 1123.0,585.9 1112.9,567.9 1102.7,581.9 1096.9,573.6 1088.0,554.9 1082.4,549.7 1075.0,557.0 1069.0,556.1 1064.8,551.6 1058.3,535.7 1051.8,552.0 1045.0,544.2 1037.5,533.8 1031.1,528.0 1023.3,540.8 1014.2,564.3 1010.3,560.0 1002.5,543.5 993.0,561.0 984.4,578.6 977.0,562.4 971.4,558.0 961.0,588.1 950.6,571.5 942.9,555.4 936.4,562.6 931.2,572.5 922.1,564.1 915.6,544.8 909.1,547.2 904.0,552.2 897.0,543.4 891.0,537.0 883.2,539.0 878.0,545.0 870.2,554.8 863.7,530.9 858.6,535.1 850.0,553.0 841.7,571.0 834.0,556.7 827.4,542.1 821.0,552.5 815.8,562.7 811.9,559.2" fill="rgba(0,150,0,0.14)" stroke="none"/><polyline points="811.9,536.9 815.8,538.9 821.0,526.8 827.4,514.4 834.0,533.8 841.7,553.8 850.0,526.7 858.6,498.7 863.7,492.0 870.2,514.4 878.0,502.7 883.2,495.4 891.0,494.6 897.0,502.6 904.0,515.2 909.1,514.2 915.6,516.6 922.1,540.1 931.2,554.5 936.4,543.6 942.9,535.4 950.6,550.3 961.0,564.6 971.4,531.9 977.0,534.9 984.4,549.2 993.0,529.3 1002.5,509.7 1010.3,528.7 1014.2,534.4 1023.3,509.8 1031.1,490.1 1037.5,501.8 1045.0,518.0 1051.8,524.0 1058.3,499.9 1064.8,519.6 1069.0,526.6 1075.0,531.0 1082.4,526.1 1088.0,533.1 1096.9,554.6 1102.7,563.7 1112.9,549.0 1123.0,566.1 1131.7,577.5 1140.4,551.3 1149.1,564.6 1160.7,583.9 1172.3,529.1 1181.0,541.5 1190.0,531.7 1201.4,500.6 1208.0,512.0 1215.9,525.3 1223.1,524.8 1230.4,508.3 1239.1,530.3 1247.0,521.6 1257.9,498.6 1268.1,516.9 1279.7,526.7 1288.0,529.1 1297.1,541.5 1311.6,549.3 1318.0,555.0 1326.1,566.7 1331.9,569.6 1337.7,560.9" fill="none" stroke="rgba(60,170,60,0.6)" stroke-width="0.8"/><polyline points="811.9,559.2 815.8,562.7 821.0,552.5 827.4,542.1 834.0,556.7 841.7,571.0 850.0,553.0 858.6,535.1 863.7,530.9 870.2,554.8 878.0,545.0 883.2,539.0 891.0,537.0 897.0,543.4 904.0,552.2 909.1,547.2 915.6,544.8 922.1,564.1 931.2,572.5 936.4,562.6 942.9,555.4 950.6,571.5 961.0,588.1 971.4,558.0 977.0,562.4 984.4,578.6 993.0,561.0 1002.5,543.5 1010.3,560.0 1014.2,564.3 1023.3,540.8 1031.1,528.0 1037.5,533.8 1045.0,544.2 1051.8,552.0 1058.3,535.7 1064.8,551.6 1069.0,556.1 1075.0,557.0 1082.4,549.7 1088.0,554.9 1096.9,573.6 1102.7,581.9 1112.9,567.9 1123.0,585.9 1131.7,597.9 1140.4,572.1 1149.1,582.0 1160.7,597.6 1172.3,554.4 1181.0,569.5 1190.0,559.7 1201.4,528.7 1208.0,541.9 1215.9,557.3 1223.1,554.8 1230.4,536.4 1239.1,560.2 1247.0,553.2 1257.9,532.6 1268.1,549.1 1279.7,556.7 1288.0,555.9 1297.1,564.6 1311.6,567.3 1318.0,573.0 1326.1,584.7 1331.9,587.6 1337.7,578.9" fill="none" stroke="rgba(60,170,60,0.6)" stroke-width="0.8"/>
<polygon points="811.5,572.0 813.2,586.2 816.0,577.0 819.0,539.3 823.5,498.3 826.1,489.3 829.0,497.9 833.9,549.2 837.8,577.1 841.7,592.6 845.0,566.5 848.0,512.0 850.8,484.3 856.0,474.3 859.9,484.3 863.7,523.8 868.9,571.9 872.3,581.0 876.7,543.7 879.3,470.1 881.9,472.9 885.8,455.9 888.4,481.4 893.6,532.3 898.8,574.5 904.0,582.3 908.0,555.6 913.0,515.3 916.9,535.2 922.1,571.9 927.3,590.0 932.5,582.3 937.0,539.3 941.6,498.3 945.5,521.0 950.6,571.9 957.1,592.6 962.0,566.5 966.0,523.0 970.1,498.3 974.0,538.0 979.2,571.9 984.4,587.5 989.0,555.6 994.7,492.8 999.9,485.7 1002.5,495.7 1006.4,532.3 1010.3,571.9 1014.2,583.6 1018.0,555.6 1023.3,475.8 1028.5,455.9 1032.4,495.6 1037.5,543.7 1042.7,567.6 1047.9,566.2 1052.0,555.6 1058.3,496.9 1062.0,512.0 1066.1,552.1 1070.8,589.0 1074.0,572.0 1078.1,507.4 1081.0,497.9 1086.8,513.7 1091.0,544.8 1095.5,579.5 1102.7,588.2 1108.0,585.0 1112.9,529.5 1115.8,529.5 1120.0,555.6 1128.8,596.9 1134.6,526.3 1140.4,507.4 1146.2,545.3 1153.5,582.4 1159.3,595.4 1164.0,555.6 1170.9,478.9 1175.2,497.9 1181.0,551.7 1185.4,588.2 1189.0,555.6 1194.1,482.1 1198.5,434.7 1202.8,466.3 1207.2,529.5 1211.5,567.5 1215.9,585.3 1221.0,555.6 1227.5,507.4 1230.9,494.7 1234.7,523.2 1240.5,576.6 1244.9,591.1 1249.0,555.6 1253.6,475.8 1257.9,458.4 1262.3,497.9 1268.1,554.9 1273.9,579.5 1278.0,555.6 1282.6,520.0 1288.4,512.2 1292.0,539.3 1297.1,570.7 1302.9,592.5 1308.0,566.5 1313.0,532.7 1317.0,555.6 1323.2,585.3 1329.0,595.4 1333.3,561.2 1337.7,529.5 1337.7,540.2 1333.3,568.4 1329.0,601.4 1323.2,591.3 1317.0,563.5 1313.0,543.0 1308.0,573.1 1302.9,598.5 1297.1,576.8 1292.0,548.9 1288.4,524.7 1282.6,531.7 1278.0,563.5 1273.9,585.5 1268.1,562.8 1262.3,512.0 1257.9,476.9 1253.6,492.3 1249.0,563.5 1244.9,597.1 1240.5,582.6 1234.7,534.5 1230.9,509.2 1227.5,520.5 1221.0,563.5 1215.9,591.3 1211.5,574.0 1207.2,540.2 1202.8,483.9 1198.5,455.8 1194.1,498.0 1189.0,563.5 1185.4,594.2 1181.0,560.0 1175.2,512.0 1170.9,495.2 1164.0,563.5 1159.3,601.4 1153.5,588.4 1146.2,554.2 1140.4,520.5 1134.6,537.4 1128.8,602.9 1120.0,563.5 1115.8,540.2 1112.9,540.2 1108.0,591.0 1102.7,594.2 1095.5,585.5 1091.0,553.8 1086.8,526.1 1081.0,512.0 1078.1,520.5 1074.0,578.0 1070.8,595.0 1066.1,560.2 1062.0,524.6 1058.3,511.2 1052.0,563.5 1047.9,572.9 1042.7,574.1 1037.5,552.8 1032.4,510.0 1028.5,474.7 1023.3,492.3 1018.0,563.5 1014.2,589.6 1010.3,577.9 1006.4,542.7 1002.5,510.1 999.9,501.2 994.7,507.5 989.0,563.5 984.4,593.5 979.2,577.9 974.0,547.7 970.1,512.4 966.0,534.4 962.0,573.1 957.1,598.6 950.6,577.9 945.5,532.6 941.6,512.4 937.0,548.9 932.5,588.3 927.3,596.0 922.1,577.9 916.9,545.2 913.0,527.6 908.0,563.5 904.0,588.3 898.8,580.5 893.6,542.7 888.4,497.4 885.8,474.7 881.9,489.8 879.3,487.3 876.7,552.8 872.3,587.0 868.9,577.9 863.7,535.1 859.9,499.9 856.0,491.1 850.8,499.9 848.0,524.6 845.0,573.1 841.7,598.6 837.8,583.1 833.9,557.7 829.0,512.0 826.1,504.4 823.5,512.4 819.0,548.9 816.0,583.0 813.2,592.2 811.5,578.0" fill="rgba(255,80,80,0.2)" stroke="none"/><polyline points="811.5,572.0 813.2,586.2 816.0,577.0 819.0,539.3 823.5,498.3 826.1,489.3 829.0,497.9 833.9,549.2 837.8,577.1 841.7,592.6 845.0,566.5 848.0,512.0 850.8,484.3 856.0,474.3 859.9,484.3 863.7,523.8 868.9,571.9 872.3,581.0 876.7,543.7 879.3,470.1 881.9,472.9 885.8,455.9 888.4,481.4 893.6,532.3 898.8,574.5 904.0,582.3 908.0,555.6 913.0,515.3 916.9,535.2 922.1,571.9 927.3,590.0 932.5,582.3 937.0,539.3 941.6,498.3 945.5,521.0 950.6,571.9 957.1,592.6 962.0,566.5 966.0,523.0 970.1,498.3 974.0,538.0 979.2,571.9 984.4,587.5 989.0,555.6 994.7,492.8 999.9,485.7 1002.5,495.7 1006.4,532.3 1010.3,571.9 1014.2,583.6 1018.0,555.6 1023.3,475.8 1028.5,455.9 1032.4,495.6 1037.5,543.7 1042.7,567.6 1047.9,566.2 1052.0,555.6 1058.3,496.9 1062.0,512.0 1066.1,552.1 1070.8,589.0 1074.0,572.0 1078.1,507.4 1081.0,497.9 1086.8,513.7 1091.0,544.8 1095.5,579.5 1102.7,588.2 1108.0,585.0 1112.9,529.5 1115.8,529.5 1120.0,555.6 1128.8,596.9 1134.6,526.3 1140.4,507.4 1146.2,545.3 1153.5,582.4 1159.3,595.4 1164.0,555.6 1170.9,478.9 1175.2,497.9 1181.0,551.7 1185.4,588.2 1189.0,555.6 1194.1,482.1 1198.5,434.7 1202.8,466.3 1207.2,529.5 1211.5,567.5 1215.9,585.3 1221.0,555.6 1227.5,507.4 1230.9,494.7 1234.7,523.2 1240.5,576.6 1244.9,591.1 1249.0,555.6 1253.6,475.8 1257.9,458.4 1262.3,497.9 1268.1,554.9 1273.9,579.5 1278.0,555.6 1282.6,520.0 1288.4,512.2 1292.0,539.3 1297.1,570.7 1302.9,592.5 1308.0,566.5 1313.0,532.7 1317.0,555.6 1323.2,585.3 1329.0,595.4 1333.3,561.2 1337.7,529.5" fill="none" stroke="rgba(255,100,100,0.55)" stroke-width="0.8"/><polyline points="811.5,578.0 813.2,592.2 816.0,583.0 819.0,548.9 823.5,512.4 826.1,504.4 829.0,512.0 833.9,557.7 837.8,583.1 841.7,598.6 845.0,573.1 848.0,524.6 850.8,499.9 856.0,491.1 859.9,499.9 863.7,535.1 868.9,577.9 872.3,587.0 876.7,552.8 879.3,487.3 881.9,489.8 885.8,474.7 888.4,497.4 893.6,542.7 898.8,580.5 904.0,588.3 908.0,563.5 913.0,527.6 916.9,545.2 922.1,577.9 927.3,596.0 932.5,588.3 937.0,548.9 941.6,512.4 945.5,532.6 950.6,577.9 957.1,598.6 962.0,573.1 966.0,534.4 970.1,512.4 974.0,547.7 979.2,577.9 984.4,593.5 989.0,563.5 994.7,507.5 999.9,501.2 1002.5,510.1 1006.4,542.7 1010.3,577.9 1014.2,589.6 1018.0,563.5 1023.3,492.3 1028.5,474.7 1032.4,510.0 1037.5,552.8 1042.7,574.1 1047.9,572.9 1052.0,563.5 1058.3,511.2 1062.0,524.6 1066.1,560.2 1070.8,595.0 1074.0,578.0 1078.1,520.5 1081.0,512.0 1086.8,526.1 1091.0,553.8 1095.5,585.5 1102.7,594.2 1108.0,591.0 1112.9,540.2 1115.8,540.2 1120.0,563.5 1128.8,602.9 1134.6,537.4 1140.4,520.5 1146.2,554.2 1153.5,588.4 1159.3,601.4 1164.0,563.5 1170.9,495.2 1175.2,512.0 1181.0,560.0 1185.4,594.2 1189.0,563.5 1194.1,498.0 1198.5,455.8 1202.8,483.9 1207.2,540.2 1211.5,574.0 1215.9,591.3 1221.0,563.5 1227.5,520.5 1230.9,509.2 1234.7,534.5 1240.5,582.6 1244.9,597.1 1249.0,563.5 1253.6,492.3 1257.9,476.9 1262.3,512.0 1268.1,562.8 1273.9,585.5 1278.0,563.5 1282.6,531.7 1288.4,524.7 1292.0,548.9 1297.1,576.8 1302.9,598.5 1308.0,573.1 1313.0,543.0 1317.0,563.5 1323.2,591.3 1329.0,601.4 1333.3,568.4 1337.7,540.2" fill="none" stroke="rgba(255,100,100,0.55)" stroke-width="0.8"/>
<polygon points="811.5,559.1 818.0,559.1 822.0,529.9 826.1,504.8 830.0,524.3 835.0,559.1 846.0,559.1 851.0,524.3 856.0,486.0 861.0,524.3 866.0,559.1 876.0,559.1 881.0,524.3 885.8,490.3 890.0,524.3 895.0,559.1 905.0,559.1 908.0,546.7 911.7,533.9 915.0,548.9 918.0,559.1 933.0,559.1 937.0,524.3 941.6,486.0 946.0,524.3 950.0,559.1 962.0,559.1 966.0,541.1 970.9,515.0 975.0,541.1 979.0,559.1 992.0,559.1 996.0,524.3 1001.2,488.9 1006.0,524.3 1010.0,559.1 1020.0,559.1 1023.0,524.3 1026.0,479.5 1029.8,441.0 1033.0,479.5 1036.0,524.3 1039.0,559.1 1050.0,559.1 1054.0,546.7 1058.3,532.5 1062.0,546.7 1065.0,559.1 1074.0,559.1 1078.0,535.5 1081.0,518.0 1084.0,524.3 1087.0,541.1 1090.0,559.1 1108.0,559.1 1112.0,552.3 1115.8,548.9 1119.0,555.6 1122.0,559.1 1132.0,559.1 1136.0,554.5 1139.0,553.7 1142.0,559.1 1162.0,559.1 1165.0,535.5 1168.0,514.8 1170.0,519.8 1172.0,516.4 1176.0,541.1 1179.0,559.1 1190.0,559.1 1194.0,513.1 1198.5,462.8 1202.0,490.7 1206.0,535.5 1209.0,559.1 1222.0,559.1 1226.0,544.4 1230.4,532.7 1234.0,544.4 1238.0,559.1 1249.0,559.1 1253.0,513.1 1257.9,458.0 1262.0,501.9 1266.0,559.1 1278.0,559.1 1282.0,541.1 1285.5,531.0 1289.0,541.1 1293.0,559.1 1305.0,559.1 1309.0,541.1 1313.0,521.3 1317.0,541.1 1321.0,559.1 1332.0,559.1 1335.0,524.3 1337.7,498.5 1337.7,511.7 1335.0,533.5 1332.0,563.1 1321.0,563.1 1317.0,547.8 1313.0,531.0 1309.0,547.8 1305.0,563.1 1293.0,563.1 1289.0,547.8 1285.5,539.2 1282.0,547.8 1278.0,563.1 1266.0,563.1 1262.0,514.5 1257.9,477.3 1253.0,524.0 1249.0,563.1 1238.0,563.1 1234.0,550.6 1230.4,540.7 1226.0,550.6 1222.0,563.1 1209.0,563.1 1206.0,543.0 1202.0,505.1 1198.5,481.4 1194.0,524.0 1190.0,563.1 1179.0,563.1 1176.0,547.8 1172.0,526.9 1170.0,529.8 1168.0,525.5 1165.0,543.0 1162.0,563.1 1142.0,563.1 1139.0,558.5 1136.0,559.2 1132.0,563.1 1122.0,563.1 1119.0,560.1 1115.8,554.5 1112.0,557.3 1108.0,563.1 1090.0,563.1 1087.0,547.8 1084.0,533.5 1081.0,528.2 1078.0,543.0 1074.0,563.1 1065.0,563.1 1062.0,552.5 1058.3,540.5 1054.0,552.5 1050.0,563.1 1039.0,563.1 1036.0,533.5 1033.0,495.6 1029.8,462.9 1026.0,495.6 1023.0,533.5 1020.0,563.1 1010.0,563.1 1006.0,533.5 1001.2,503.5 996.0,533.5 992.0,563.1 979.0,563.1 975.0,547.8 970.9,525.7 966.0,547.8 962.0,563.1 950.0,563.1 946.0,533.5 941.6,501.1 937.0,533.5 933.0,563.1 918.0,563.1 915.0,554.5 911.7,541.7 908.0,552.5 905.0,563.1 895.0,563.1 890.0,533.5 885.8,504.8 881.0,533.5 876.0,563.1 866.0,563.1 861.0,533.5 856.0,501.1 851.0,533.5 846.0,563.1 835.0,563.1 830.0,533.5 826.1,517.0 822.0,538.3 818.0,563.1 811.5,563.1" fill="rgba(60,60,255,0.2)" stroke="none"/><polyline points="811.5,559.1 818.0,559.1 822.0,529.9 826.1,504.8 830.0,524.3 835.0,559.1 846.0,559.1 851.0,524.3 856.0,486.0 861.0,524.3 866.0,559.1 876.0,559.1 881.0,524.3 885.8,490.3 890.0,524.3 895.0,559.1 905.0,559.1 908.0,546.7 911.7,533.9 915.0,548.9 918.0,559.1 933.0,559.1 937.0,524.3 941.6,486.0 946.0,524.3 950.0,559.1 962.0,559.1 966.0,541.1 970.9,515.0 975.0,541.1 979.0,559.1 992.0,559.1 996.0,524.3 1001.2,488.9 1006.0,524.3 1010.0,559.1 1020.0,559.1 1023.0,524.3 1026.0,479.5 1029.8,441.0 1033.0,479.5 1036.0,524.3 1039.0,559.1 1050.0,559.1 1054.0,546.7 1058.3,532.5 1062.0,546.7 1065.0,559.1 1074.0,559.1 1078.0,535.5 1081.0,518.0 1084.0,524.3 1087.0,541.1 1090.0,559.1 1108.0,559.1 1112.0,552.3 1115.8,548.9 1119.0,555.6 1122.0,559.1 1132.0,559.1 1136.0,554.5 1139.0,553.7 1142.0,559.1 1162.0,559.1 1165.0,535.5 1168.0,514.8 1170.0,519.8 1172.0,516.4 1176.0,541.1 1179.0,559.1 1190.0,559.1 1194.0,513.1 1198.5,462.8 1202.0,490.7 1206.0,535.5 1209.0,559.1 1222.0,559.1 1226.0,544.4 1230.4,532.7 1234.0,544.4 1238.0,559.1 1249.0,559.1 1253.0,513.1 1257.9,458.0 1262.0,501.9 1266.0,559.1 1278.0,559.1 1282.0,541.1 1285.5,531.0 1289.0,541.1 1293.0,559.1 1305.0,559.1 1309.0,541.1 1313.0,521.3 1317.0,541.1 1321.0,559.1 1332.0,559.1 1335.0,524.3 1337.7,498.5" fill="none" stroke="rgba(70,70,255,0.5)" stroke-width="0.8"/><polyline points="811.5,563.1 818.0,563.1 822.0,538.3 826.1,517.0 830.0,533.5 835.0,563.1 846.0,563.1 851.0,533.5 856.0,501.1 861.0,533.5 866.0,563.1 876.0,563.1 881.0,533.5 885.8,504.8 890.0,533.5 895.0,563.1 905.0,563.1 908.0,552.5 911.7,541.7 915.0,554.5 918.0,563.1 933.0,563.1 937.0,533.5 941.6,501.1 946.0,533.5 950.0,563.1 962.0,563.1 966.0,547.8 970.9,525.7 975.0,547.8 979.0,563.1 992.0,563.1 996.0,533.5 1001.2,503.5 1006.0,533.5 1010.0,563.1 1020.0,563.1 1023.0,533.5 1026.0,495.6 1029.8,462.9 1033.0,495.6 1036.0,533.5 1039.0,563.1 1050.0,563.1 1054.0,552.5 1058.3,540.5 1062.0,552.5 1065.0,563.1 1074.0,563.1 1078.0,543.0 1081.0,528.2 1084.0,533.5 1087.0,547.8 1090.0,563.1 1108.0,563.1 1112.0,557.3 1115.8,554.5 1119.0,560.1 1122.0,563.1 1132.0,563.1 1136.0,559.2 1139.0,558.5 1142.0,563.1 1162.0,563.1 1165.0,543.0 1168.0,525.5 1170.0,529.8 1172.0,526.9 1176.0,547.8 1179.0,563.1 1190.0,563.1 1194.0,524.0 1198.5,481.4 1202.0,505.1 1206.0,543.0 1209.0,563.1 1222.0,563.1 1226.0,550.6 1230.4,540.7 1234.0,550.6 1238.0,563.1 1249.0,563.1 1253.0,524.0 1257.9,477.3 1262.0,514.5 1266.0,563.1 1278.0,563.1 1282.0,547.8 1285.5,539.2 1289.0,547.8 1293.0,563.1 1305.0,563.1 1309.0,547.8 1313.0,531.0 1317.0,547.8 1321.0,563.1 1332.0,563.1 1335.0,533.5 1337.7,511.7" fill="none" stroke="rgba(70,70,255,0.5)" stroke-width="0.8"/>
<polyline points="811.5,575.0 813.2,589.2 816.0,580.0 819.0,545.0 823.5,507.4 826.1,499.1 829.0,507.0 833.9,554.1 837.8,580.1 841.7,595.6 845.0,570.0 848.0,520.0 850.8,494.5 856.0,485.4 859.9,494.5 863.7,530.8 868.9,574.9 872.3,584.0 876.7,549.0 879.3,481.5 881.9,484.1 885.8,468.5 888.4,491.9 893.6,538.6 898.8,577.5 904.0,585.3 908.0,560.0 913.0,523.0 916.9,541.2 922.1,574.9 927.3,593.0 932.5,585.3 937.0,545.0 941.6,507.4 945.5,528.2 950.6,574.9 957.1,595.6 962.0,570.0 966.0,530.0 970.1,507.4 974.0,543.8 979.2,574.9 984.4,590.5 989.0,560.0 994.7,502.3 999.9,495.8 1002.5,505.0 1006.4,538.6 1010.3,574.9 1014.2,586.6 1018.0,560.0 1023.3,486.7 1028.5,468.5 1032.4,504.9 1037.5,549.0 1042.7,571.0 1047.9,569.7 1052.0,560.0 1058.3,506.1 1062.0,520.0 1066.1,556.7 1070.8,592.0 1074.0,575.0 1078.1,515.7 1081.0,507.0 1086.8,521.5 1091.0,550.0 1095.5,582.5 1102.7,591.2 1108.0,588.0 1112.9,536.0 1115.8,536.0 1120.0,560.0 1128.8,599.9 1134.6,533.1 1140.4,515.7 1146.2,550.5 1153.5,585.4 1159.3,598.4 1164.0,560.0 1170.9,489.6 1175.2,507.0 1181.0,556.4 1185.4,591.2 1189.0,560.0 1194.1,492.5 1198.5,449.0 1202.8,478.0 1207.2,536.0 1211.5,570.9 1215.9,588.3 1221.0,560.0 1227.5,515.7 1230.9,504.1 1234.7,530.2 1240.5,579.6 1244.9,594.1 1249.0,560.0 1253.6,486.7 1257.9,470.8 1262.3,507.0 1268.1,559.3 1273.9,582.5 1278.0,560.0 1282.6,527.3 1288.4,520.1 1292.0,545.0 1297.1,573.8 1302.9,595.5 1308.0,570.0 1313.0,538.9 1317.0,560.0 1323.2,588.3 1329.0,598.4 1333.3,565.1 1337.7,536.0" fill="none" stroke="#ff0000" stroke-width="3.3" stroke-linejoin="round" stroke-linecap="butt" />
<polyline points="811.9,549.0 815.8,551.5 821.0,540.0 827.4,528.2 834.0,545.0 841.7,561.9 850.0,540.0 858.6,517.8 863.7,512.6 870.2,536.0 878.0,525.6 883.2,519.1 891.0,517.8 897.0,525.0 904.0,536.0 909.1,533.4 915.6,533.4 922.1,554.1 931.2,564.5 936.4,554.1 942.9,546.4 950.6,561.9 961.0,577.5 971.4,546.4 977.0,550.0 984.4,564.5 993.0,545.0 1002.5,525.6 1010.3,543.8 1014.2,549.0 1023.3,525.6 1031.1,510.0 1037.5,517.8 1045.0,530.0 1051.8,536.0 1058.3,517.8 1064.8,536.0 1069.0,542.0 1075.0,545.0 1082.4,538.9 1088.0,545.0 1096.9,565.1 1102.7,573.8 1112.9,559.3 1123.0,576.7 1131.7,588.3 1140.4,562.2 1149.1,573.8 1160.7,591.2 1172.3,541.8 1181.0,556.4 1190.0,548.0 1201.4,518.6 1208.0,530.0 1215.9,543.3 1223.1,541.8 1230.4,524.4 1239.1,547.6 1247.0,540.0 1257.9,518.6 1268.1,536.0 1279.7,544.7 1288.0,545.0 1297.1,554.9 1311.6,559.3 1318.0,565.0 1326.1,576.7 1331.9,579.6 1337.7,570.9" fill="none" stroke="#008000" stroke-width="3.3" stroke-linejoin="round" stroke-linecap="butt" stroke-dasharray="10,8" />
<polyline points="811.5,561.1 818.0,561.1 822.0,535.0 826.1,512.6 830.0,530.0 835.0,561.1 846.0,561.1 851.0,530.0 856.0,495.8 861.0,530.0 866.0,561.1 876.0,561.1 881.0,530.0 885.8,499.7 890.0,530.0 895.0,561.1 905.0,561.1 908.0,550.0 911.7,538.6 915.0,552.0 918.0,561.1 933.0,561.1 937.0,530.0 941.6,495.8 946.0,530.0 950.0,561.1 962.0,561.1 966.0,545.0 970.9,521.7 975.0,545.0 979.0,561.1 992.0,561.1 996.0,530.0 1001.2,498.4 1006.0,530.0 1010.0,561.1 1020.0,561.1 1023.0,530.0 1026.0,490.0 1029.8,455.6 1033.0,490.0 1036.0,530.0 1039.0,561.1 1050.0,561.1 1054.0,550.0 1058.3,537.3 1062.0,550.0 1065.0,561.1 1074.0,561.1 1078.0,540.0 1081.0,524.4 1084.0,530.0 1087.0,545.0 1090.0,561.1 1108.0,561.1 1112.0,555.0 1115.8,552.0 1119.0,558.0 1122.0,561.1 1132.0,561.1 1136.0,557.0 1139.0,556.3 1142.0,561.1 1162.0,561.1 1165.0,540.0 1168.0,521.5 1170.0,526.0 1172.0,523.0 1176.0,545.0 1179.0,561.1 1190.0,561.1 1194.0,520.0 1198.5,475.1 1202.0,500.0 1206.0,540.0 1209.0,561.1 1222.0,561.1 1226.0,548.0 1230.4,537.5 1234.0,548.0 1238.0,561.1 1249.0,561.1 1253.0,520.0 1257.9,470.8 1262.0,510.0 1266.0,561.1 1278.0,561.1 1282.0,545.0 1285.5,536.0 1289.0,545.0 1293.0,561.1 1305.0,561.1 1309.0,545.0 1313.0,527.3 1317.0,545.0 1321.0,561.1 1332.0,561.1 1335.0,530.0 1337.7,507.0" fill="none" stroke="#0000ff" stroke-width="3.3" stroke-linejoin="round" stroke-linecap="butt" stroke-dasharray="10,3,5,3" />
<line x1="1014" y1="400.7" x2="1067.3" y2="400.7" stroke="#ff0000" stroke-width="3"/>
<text transform="translate(1073.30,408.40) scale(0.9434,1)" font-size="21.2" font-weight="bold" fill="#000">SM</text>
<line x1="1113.2" y1="400.7" x2="1164" y2="400.7" stroke="#008000" stroke-width="3" stroke-dasharray="9.5,10.5"/>
<text transform="translate(1172.45,408.40) scale(0.8628,1)" font-size="21.2" font-weight="bold" fill="#000">SW</text>
<line x1="1212.3" y1="400.7" x2="1266.5" y2="400.7" stroke="#0000ff" stroke-width="3" stroke-dasharray="8,3,2,3"/>
<text transform="translate(1272.33,408.40) scale(0.8964,1)" font-size="21.2" font-weight="bold" fill="#000">SWE</text>
<text transform="translate(813.45,417.00) scale(1.0108,1)" font-size="31" font-weight="normal" fill="#000">d</text>
<text transform="translate(699.30,655.37) scale(0.92,1) rotate(-90) scale(1.0161,1)" font-size="26.3" font-weight="bold" fill="#262626">Monthly Terrestrial Water</text>
<text transform="translate(728.80,650.18) scale(0.92,1) rotate(-90) scale(0.9838,1)" font-size="26.3" font-weight="bold" fill="#262626">Storage Anomalies (mm)</text>
</svg></body></html>
